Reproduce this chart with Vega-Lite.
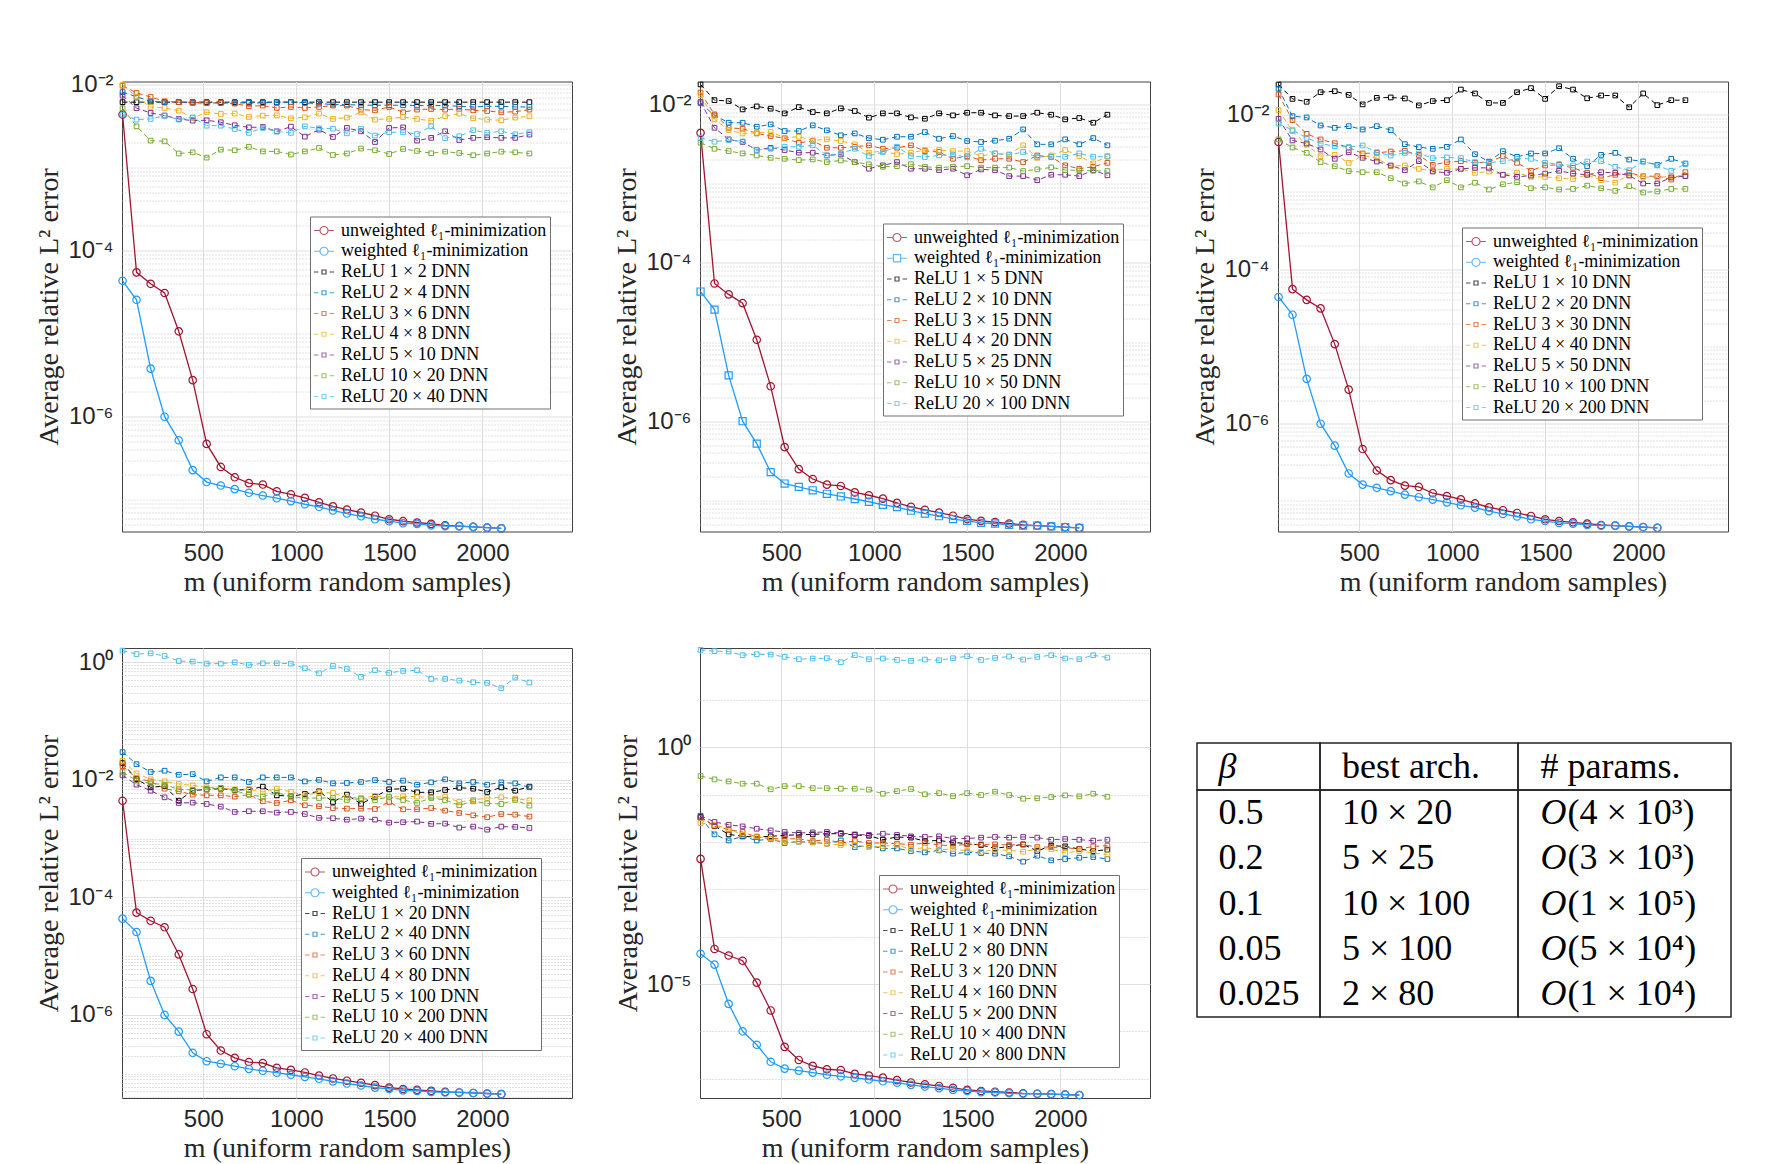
{
"$schema": "https://vega.github.io/schema/vega-lite/v6.json",
"background": "white",
"padding": {"left": 35, "top": 71.5, "right": 5, "bottom": 2},
"config": {
 "view": {"stroke": "#404040", "strokeWidth": 1},
 "axis": {"labelFont": "Liberation Sans", "labelFontSize": 24, "labelColor": "#262626", "titleFont": "Liberation Serif", "titleFontSize": 28, "titleFontWeight": "normal", "titleColor": "#262626", "domain": false, "ticks": false, "grid": true, "gridColor": "#dedede", "gridWidth": 1, "labelFlush": false, "labelOverlap": false},
 "axisX": {"titlePadding": 3, "labelPadding": 9.5, "format": "d"},
 "axisY": {"titlePadding": 4, "labelPadding": 9},
 "legend": {"labelFont": "Liberation Serif", "labelFontSize": 18, "labelColor": "#000000", "labelLimit": 400, "symbolSize": 400, "symbolStrokeWidth": 1.2, "padding": 3, "rowPadding": 0.75, "labelOffset": 6, "strokeColor": "#707070", "fillColor": "#ffffff", "orient": "none"}
},
"datasets": {
"l1": [
{"m":66,"net":"unweighted","err":4.4e-3},{"m":141,"net":"unweighted","err":5.5e-5},{"m":217,"net":"unweighted","err":4.0e-5},{"m":292,"net":"unweighted","err":3.1e-5},{"m":368,"net":"unweighted","err":1.07e-5},{"m":443,"net":"unweighted","err":2.76e-6},{"m":518,"net":"unweighted","err":4.7e-7},{"m":594,"net":"unweighted","err":2.48e-7},{"m":669,"net":"unweighted","err":1.86e-7},{"m":745,"net":"unweighted","err":1.58e-7},{"m":820,"net":"unweighted","err":1.52e-7},{"m":895,"net":"unweighted","err":1.26e-7},{"m":971,"net":"unweighted","err":1.16e-7},{"m":1046,"net":"unweighted","err":1.05e-7},{"m":1122,"net":"unweighted","err":9.3e-8},{"m":1197,"net":"unweighted","err":8.3e-8},{"m":1272,"net":"unweighted","err":7.6e-8},{"m":1348,"net":"unweighted","err":7.0e-8},{"m":1423,"net":"unweighted","err":6.4e-8},{"m":1499,"net":"unweighted","err":5.8e-8},{"m":1574,"net":"unweighted","err":5.5e-8},{"m":1649,"net":"unweighted","err":5.3e-8},{"m":1725,"net":"unweighted","err":5.1e-8},{"m":1800,"net":"unweighted","err":4.9e-8},{"m":1876,"net":"unweighted","err":4.8e-8},{"m":1951,"net":"unweighted","err":4.7e-8},{"m":2026,"net":"unweighted","err":4.6e-8},{"m":2102,"net":"unweighted","err":4.5e-8},
{"m":66,"net":"weighted","err":4.35e-5},{"m":141,"net":"weighted","err":2.57e-5},{"m":217,"net":"weighted","err":3.8e-6},{"m":292,"net":"weighted","err":1.0e-6},{"m":368,"net":"weighted","err":5.2e-7},{"m":443,"net":"weighted","err":2.27e-7},{"m":518,"net":"weighted","err":1.63e-7},{"m":594,"net":"weighted","err":1.48e-7},{"m":669,"net":"weighted","err":1.34e-7},{"m":745,"net":"weighted","err":1.21e-7},{"m":820,"net":"weighted","err":1.12e-7},{"m":895,"net":"weighted","err":1.04e-7},{"m":971,"net":"weighted","err":9.6e-8},{"m":1046,"net":"weighted","err":8.8e-8},{"m":1122,"net":"weighted","err":8.2e-8},{"m":1197,"net":"weighted","err":7.4e-8},{"m":1272,"net":"weighted","err":6.8e-8},{"m":1348,"net":"weighted","err":6.3e-8},{"m":1423,"net":"weighted","err":5.8e-8},{"m":1499,"net":"weighted","err":5.5e-8},{"m":1574,"net":"weighted","err":5.2e-8},{"m":1649,"net":"weighted","err":5.1e-8},{"m":1725,"net":"weighted","err":4.9e-8},{"m":1800,"net":"weighted","err":4.8e-8},{"m":1876,"net":"weighted","err":4.8e-8},{"m":1951,"net":"weighted","err":4.7e-8},{"m":2026,"net":"weighted","err":4.6e-8},{"m":2102,"net":"weighted","err":4.5e-8}
],
"p1": [
{"m":66,"net":"1","err":6.2e-3},{"m":141,"net":"1","err":6.2e-3},{"m":217,"net":"1","err":6.2e-3},{"m":292,"net":"1","err":6.2e-3},{"m":368,"net":"1","err":6.2e-3},{"m":443,"net":"1","err":6.2e-3},{"m":518,"net":"1","err":6.2e-3},{"m":594,"net":"1","err":6.2e-3},{"m":669,"net":"1","err":6.2e-3},{"m":745,"net":"1","err":6.2e-3},{"m":820,"net":"1","err":6.2e-3},{"m":895,"net":"1","err":6.2e-3},{"m":971,"net":"1","err":6.2e-3},{"m":1046,"net":"1","err":6.2e-3},{"m":1122,"net":"1","err":6.2e-3},{"m":1197,"net":"1","err":6.2e-3},{"m":1272,"net":"1","err":6.2e-3},{"m":1348,"net":"1","err":6.2e-3},{"m":1423,"net":"1","err":6.2e-3},{"m":1499,"net":"1","err":6.2e-3},{"m":1574,"net":"1","err":6.2e-3},{"m":1649,"net":"1","err":6.2e-3},{"m":1725,"net":"1","err":6.2e-3},{"m":1800,"net":"1","err":6.2e-3},{"m":1876,"net":"1","err":6.2e-3},{"m":1951,"net":"1","err":6.2e-3},{"m":2026,"net":"1","err":6.2e-3},{"m":2102,"net":"1","err":6.2e-3},{"m":2177,"net":"1","err":6.2e-3},{"m":2253,"net":"1","err":6.2e-3},
{"m":66,"net":"2","err":8.2e-3},{"m":141,"net":"2","err":7.2e-3},{"m":217,"net":"2","err":6.35e-3},{"m":292,"net":"2","err":6.2e-3},{"m":368,"net":"2","err":6.2e-3},{"m":443,"net":"2","err":6.07e-3},{"m":518,"net":"2","err":6.07e-3},{"m":594,"net":"2","err":6.07e-3},{"m":669,"net":"2","err":6.07e-3},{"m":745,"net":"2","err":6.07e-3},{"m":820,"net":"2","err":6.07e-3},{"m":895,"net":"2","err":6.2e-3},{"m":971,"net":"2","err":6.2e-3},{"m":1046,"net":"2","err":6.07e-3},{"m":1122,"net":"2","err":5.96e-3},{"m":1197,"net":"2","err":5.8e-3},{"m":1272,"net":"2","err":5.8e-3},{"m":1348,"net":"2","err":5.69e-3},{"m":1423,"net":"2","err":5.69e-3},{"m":1499,"net":"2","err":5.69e-3},{"m":1574,"net":"2","err":5.69e-3},{"m":1649,"net":"2","err":5.64e-3},{"m":1725,"net":"2","err":5.64e-3},{"m":1800,"net":"2","err":5.64e-3},{"m":1876,"net":"2","err":5.53e-3},{"m":1951,"net":"2","err":5.43e-3},{"m":2026,"net":"2","err":5.53e-3},{"m":2102,"net":"2","err":5.53e-3},{"m":2177,"net":"2","err":5.43e-3},{"m":2253,"net":"2","err":5.43e-3},
{"m":66,"net":"3","err":9.8e-3},{"m":141,"net":"3","err":8.0e-3},{"m":217,"net":"3","err":7.16e-3},{"m":292,"net":"3","err":6.35e-3},{"m":368,"net":"3","err":6.18e-3},{"m":443,"net":"3","err":6.18e-3},{"m":518,"net":"3","err":6.07e-3},{"m":594,"net":"3","err":6.07e-3},{"m":669,"net":"3","err":5.96e-3},{"m":745,"net":"3","err":5.53e-3},{"m":820,"net":"3","err":5.64e-3},{"m":895,"net":"3","err":5.28e-3},{"m":971,"net":"3","err":5.43e-3},{"m":1046,"net":"3","err":5.28e-3},{"m":1122,"net":"3","err":5.43e-3},{"m":1197,"net":"3","err":5.64e-3},{"m":1272,"net":"3","err":5.64e-3},{"m":1348,"net":"3","err":5.04e-3},{"m":1423,"net":"3","err":4.94e-3},{"m":1499,"net":"3","err":5.43e-3},{"m":1574,"net":"3","err":4.68e-3},{"m":1649,"net":"3","err":5.04e-3},{"m":1725,"net":"3","err":5.13e-3},{"m":1800,"net":"3","err":5.04e-3},{"m":1876,"net":"3","err":5.13e-3},{"m":1951,"net":"3","err":4.94e-3},{"m":2026,"net":"3","err":4.85e-3},{"m":2102,"net":"3","err":4.68e-3},{"m":2177,"net":"3","err":4.76e-3},{"m":2253,"net":"3","err":5.04e-3},
{"m":66,"net":"4","err":1.0e-2},{"m":141,"net":"4","err":7.16e-3},{"m":217,"net":"4","err":5.43e-3},{"m":292,"net":"4","err":5.28e-3},{"m":368,"net":"4","err":4.9e-3},{"m":443,"net":"4","err":4.0e-3},{"m":518,"net":"4","err":4.68e-3},{"m":594,"net":"4","err":4.47e-3},{"m":669,"net":"4","err":4.51e-3},{"m":745,"net":"4","err":4.11e-3},{"m":820,"net":"4","err":4.27e-3},{"m":895,"net":"4","err":4.3e-3},{"m":971,"net":"4","err":3.96e-3},{"m":1046,"net":"4","err":4.07e-3},{"m":1122,"net":"4","err":4.51e-3},{"m":1197,"net":"4","err":3.89e-3},{"m":1272,"net":"4","err":4.04e-3},{"m":1348,"net":"4","err":4.68e-3},{"m":1423,"net":"4","err":3.82e-3},{"m":1499,"net":"4","err":3.89e-3},{"m":1574,"net":"4","err":4.11e-3},{"m":1649,"net":"4","err":3.89e-3},{"m":1725,"net":"4","err":3.68e-3},{"m":1800,"net":"4","err":4.19e-3},{"m":1876,"net":"4","err":4.51e-3},{"m":1951,"net":"4","err":3.96e-3},{"m":2026,"net":"4","err":3.82e-3},{"m":2102,"net":"4","err":3.75e-3},{"m":2177,"net":"4","err":4.04e-3},{"m":2253,"net":"4","err":4.19e-3},
{"m":66,"net":"5","err":7.44e-3},{"m":141,"net":"5","err":5.24e-3},{"m":217,"net":"5","err":4.59e-3},{"m":292,"net":"5","err":4.27e-3},{"m":368,"net":"5","err":3.89e-3},{"m":443,"net":"5","err":3.71e-3},{"m":518,"net":"5","err":3.75e-3},{"m":594,"net":"5","err":3.55e-3},{"m":669,"net":"5","err":3.26e-3},{"m":745,"net":"5","err":3.08e-3},{"m":820,"net":"5","err":3.11e-3},{"m":895,"net":"5","err":2.76e-3},{"m":971,"net":"5","err":3.14e-3},{"m":1046,"net":"5","err":2.38e-3},{"m":1122,"net":"5","err":2.89e-3},{"m":1197,"net":"5","err":2.36e-3},{"m":1272,"net":"5","err":3.03e-3},{"m":1348,"net":"5","err":2.76e-3},{"m":1423,"net":"5","err":2.05e-3},{"m":1499,"net":"5","err":3.03e-3},{"m":1574,"net":"5","err":3.08e-3},{"m":1649,"net":"5","err":2.13e-3},{"m":1725,"net":"5","err":2.3e-3},{"m":1800,"net":"5","err":2.76e-3},{"m":1876,"net":"5","err":2.17e-3},{"m":1951,"net":"5","err":2.3e-3},{"m":2026,"net":"5","err":2.34e-3},{"m":2102,"net":"5","err":2.3e-3},{"m":2177,"net":"5","err":2.3e-3},{"m":2253,"net":"5","err":2.52e-3},
{"m":66,"net":"10","err":5.24e-3},{"m":141,"net":"10","err":3.17e-3},{"m":217,"net":"10","err":2.13e-3},{"m":292,"net":"10","err":2.09e-3},{"m":368,"net":"10","err":1.49e-3},{"m":443,"net":"10","err":1.54e-3},{"m":518,"net":"10","err":1.33e-3},{"m":594,"net":"10","err":1.66e-3},{"m":669,"net":"10","err":1.63e-3},{"m":745,"net":"10","err":1.79e-3},{"m":820,"net":"10","err":1.58e-3},{"m":895,"net":"10","err":1.58e-3},{"m":971,"net":"10","err":1.45e-3},{"m":1046,"net":"10","err":1.58e-3},{"m":1122,"net":"10","err":1.74e-3},{"m":1197,"net":"10","err":1.43e-3},{"m":1272,"net":"10","err":1.49e-3},{"m":1348,"net":"10","err":1.71e-3},{"m":1423,"net":"10","err":1.63e-3},{"m":1499,"net":"10","err":1.47e-3},{"m":1574,"net":"10","err":1.69e-3},{"m":1649,"net":"10","err":1.6e-3},{"m":1725,"net":"10","err":1.5e-3},{"m":1800,"net":"10","err":1.57e-3},{"m":1876,"net":"10","err":1.51e-3},{"m":1951,"net":"10","err":1.42e-3},{"m":2026,"net":"10","err":1.49e-3},{"m":2102,"net":"10","err":1.57e-3},{"m":2177,"net":"10","err":1.54e-3},{"m":2253,"net":"10","err":1.49e-3},
{"m":66,"net":"20","err":4.38e-3},{"m":141,"net":"20","err":3.82e-3},{"m":217,"net":"20","err":3.89e-3},{"m":292,"net":"20","err":4.27e-3},{"m":368,"net":"20","err":3.82e-3},{"m":443,"net":"20","err":4.07e-3},{"m":518,"net":"20","err":3.23e-3},{"m":594,"net":"20","err":3.23e-3},{"m":669,"net":"20","err":2.94e-3},{"m":745,"net":"20","err":2.64e-3},{"m":820,"net":"20","err":3.03e-3},{"m":895,"net":"20","err":2.74e-3},{"m":971,"net":"20","err":2.64e-3},{"m":1046,"net":"20","err":3.17e-3},{"m":1122,"net":"20","err":3.0e-3},{"m":1197,"net":"20","err":2.97e-3},{"m":1272,"net":"20","err":2.61e-3},{"m":1348,"net":"20","err":2.97e-3},{"m":1423,"net":"20","err":2.45e-3},{"m":1499,"net":"20","err":2.69e-3},{"m":1574,"net":"20","err":2.69e-3},{"m":1649,"net":"20","err":2.56e-3},{"m":1725,"net":"20","err":3.17e-3},{"m":1800,"net":"20","err":2.28e-3},{"m":1876,"net":"20","err":2.4e-3},{"m":1951,"net":"20","err":2.84e-3},{"m":2026,"net":"20","err":2.64e-3},{"m":2102,"net":"20","err":2.76e-3},{"m":2177,"net":"20","err":2.54e-3},{"m":2253,"net":"20","err":2.69e-3}
],
"p2": [
{"m":66,"net":"1","err":1.8e-2},{"m":141,"net":"1","err":1.14e-2},{"m":217,"net":"1","err":1.11e-2},{"m":292,"net":"1","err":8.71e-3},{"m":368,"net":"1","err":9.5e-3},{"m":443,"net":"1","err":8.89e-3},{"m":518,"net":"1","err":7.76e-3},{"m":594,"net":"1","err":9.3e-3},{"m":669,"net":"1","err":8.06e-3},{"m":745,"net":"1","err":7.76e-3},{"m":820,"net":"1","err":8.97e-3},{"m":895,"net":"1","err":8.3e-3},{"m":971,"net":"1","err":6.84e-3},{"m":1046,"net":"1","err":7.76e-3},{"m":1122,"net":"1","err":7.76e-3},{"m":1197,"net":"1","err":6.9e-3},{"m":1272,"net":"1","err":6.64e-3},{"m":1348,"net":"1","err":7.76e-3},{"m":1423,"net":"1","err":7.31e-3},{"m":1499,"net":"1","err":7.9e-3},{"m":1574,"net":"1","err":7.9e-3},{"m":1649,"net":"1","err":7.31e-3},{"m":1725,"net":"1","err":7.17e-3},{"m":1800,"net":"1","err":7.17e-3},{"m":1876,"net":"1","err":7.9e-3},{"m":1951,"net":"1","err":7.46e-3},{"m":2026,"net":"1","err":6.52e-3},{"m":2102,"net":"1","err":6.77e-3},{"m":2177,"net":"1","err":5.91e-3},{"m":2253,"net":"1","err":7.46e-3},
{"m":66,"net":"2","err":1.04e-2},{"m":141,"net":"2","err":7.31e-3},{"m":217,"net":"2","err":5.91e-3},{"m":292,"net":"2","err":5.91e-3},{"m":368,"net":"2","err":5.26e-3},{"m":443,"net":"2","err":5.63e-3},{"m":518,"net":"2","err":4.64e-3},{"m":594,"net":"2","err":4.64e-3},{"m":669,"net":"2","err":5.47e-3},{"m":745,"net":"2","err":4.73e-3},{"m":820,"net":"2","err":4.09e-3},{"m":895,"net":"2","err":4.33e-3},{"m":971,"net":"2","err":3.78e-3},{"m":1046,"net":"2","err":3.6e-3},{"m":1122,"net":"2","err":3.93e-3},{"m":1197,"net":"2","err":3.93e-3},{"m":1272,"net":"2","err":4.5e-3},{"m":1348,"net":"2","err":3.71e-3},{"m":1423,"net":"2","err":4.01e-3},{"m":1499,"net":"2","err":3.47e-3},{"m":1574,"net":"2","err":3.37e-3},{"m":1649,"net":"2","err":3.5e-3},{"m":1725,"net":"2","err":3.71e-3},{"m":1800,"net":"2","err":4.86e-3},{"m":1876,"net":"2","err":3.15e-3},{"m":1951,"net":"2","err":3.15e-3},{"m":2026,"net":"2","err":3.64e-3},{"m":2102,"net":"2","err":3.15e-3},{"m":2177,"net":"2","err":3.78e-3},{"m":2253,"net":"2","err":3.06e-3},
{"m":66,"net":"3","err":1.42e-2},{"m":141,"net":"3","err":7.54e-3},{"m":217,"net":"3","err":5.1e-3},{"m":292,"net":"3","err":4.96e-3},{"m":368,"net":"3","err":4.33e-3},{"m":443,"net":"3","err":4.01e-3},{"m":518,"net":"3","err":3.75e-3},{"m":594,"net":"3","err":3.3e-3},{"m":669,"net":"3","err":3.47e-3},{"m":745,"net":"3","err":2.85e-3},{"m":820,"net":"3","err":2.85e-3},{"m":895,"net":"3","err":2.94e-3},{"m":971,"net":"3","err":3.06e-3},{"m":1046,"net":"3","err":2.77e-3},{"m":1122,"net":"3","err":2.85e-3},{"m":1197,"net":"3","err":3.06e-3},{"m":1272,"net":"3","err":2.59e-3},{"m":1348,"net":"3","err":2.52e-3},{"m":1423,"net":"3","err":2.07e-3},{"m":1499,"net":"3","err":2.24e-3},{"m":1574,"net":"3","err":1.99e-3},{"m":1649,"net":"3","err":2.07e-3},{"m":1725,"net":"3","err":2.07e-3},{"m":1800,"net":"3","err":1.88e-3},{"m":1876,"net":"3","err":2.28e-3},{"m":1951,"net":"3","err":2.18e-3},{"m":2026,"net":"3","err":1.71e-3},{"m":2102,"net":"3","err":1.55e-3},{"m":2177,"net":"3","err":1.64e-3},{"m":2253,"net":"3","err":1.84e-3},
{"m":66,"net":"4","err":1.31e-2},{"m":141,"net":"4","err":6.52e-3},{"m":217,"net":"4","err":4.77e-3},{"m":292,"net":"4","err":4.33e-3},{"m":368,"net":"4","err":4.42e-3},{"m":443,"net":"4","err":4.5e-3},{"m":518,"net":"4","err":3.82e-3},{"m":594,"net":"4","err":3.93e-3},{"m":669,"net":"4","err":3.53e-3},{"m":745,"net":"4","err":3.64e-3},{"m":820,"net":"4","err":3.47e-3},{"m":895,"net":"4","err":3.15e-3},{"m":971,"net":"4","err":2.47e-3},{"m":1046,"net":"4","err":2.59e-3},{"m":1122,"net":"4","err":2.35e-3},{"m":1197,"net":"4","err":2.47e-3},{"m":1272,"net":"4","err":2.67e-3},{"m":1348,"net":"4","err":2.67e-3},{"m":1423,"net":"4","err":2.59e-3},{"m":1499,"net":"4","err":2.59e-3},{"m":1574,"net":"4","err":2.24e-3},{"m":1649,"net":"4","err":2.42e-3},{"m":1725,"net":"4","err":2.35e-3},{"m":1800,"net":"4","err":3.06e-3},{"m":1876,"net":"4","err":2.13e-3},{"m":1951,"net":"4","err":2.28e-3},{"m":2026,"net":"4","err":2.67e-3},{"m":2102,"net":"4","err":2.24e-3},{"m":2177,"net":"4","err":1.81e-3},{"m":2253,"net":"4","err":2.24e-3},
{"m":66,"net":"5","err":1.08e-2},{"m":141,"net":"5","err":5.1e-3},{"m":217,"net":"5","err":3.64e-3},{"m":292,"net":"5","err":3.37e-3},{"m":368,"net":"5","err":2.67e-3},{"m":443,"net":"5","err":2.85e-3},{"m":518,"net":"5","err":2.67e-3},{"m":594,"net":"5","err":2.47e-3},{"m":669,"net":"5","err":2.47e-3},{"m":745,"net":"5","err":2.28e-3},{"m":820,"net":"5","err":2.35e-3},{"m":895,"net":"5","err":1.88e-3},{"m":971,"net":"5","err":1.55e-3},{"m":1046,"net":"5","err":1.71e-3},{"m":1122,"net":"5","err":1.88e-3},{"m":1197,"net":"5","err":1.55e-3},{"m":1272,"net":"5","err":1.55e-3},{"m":1348,"net":"5","err":1.49e-3},{"m":1423,"net":"5","err":1.55e-3},{"m":1499,"net":"5","err":1.28e-3},{"m":1574,"net":"5","err":1.52e-3},{"m":1649,"net":"5","err":1.49e-3},{"m":1725,"net":"5","err":1.25e-3},{"m":1800,"net":"5","err":1.25e-3},{"m":1876,"net":"5","err":1.11e-3},{"m":1951,"net":"5","err":1.3e-3},{"m":2026,"net":"5","err":1.3e-3},{"m":2102,"net":"5","err":1.25e-3},{"m":2177,"net":"5","err":1.49e-3},{"m":2253,"net":"5","err":1.28e-3},
{"m":66,"net":"10","err":3.3e-3},{"m":141,"net":"10","err":2.77e-3},{"m":217,"net":"10","err":2.59e-3},{"m":292,"net":"10","err":2.42e-3},{"m":368,"net":"10","err":2.28e-3},{"m":443,"net":"10","err":2.13e-3},{"m":518,"net":"10","err":2.07e-3},{"m":594,"net":"10","err":1.99e-3},{"m":669,"net":"10","err":2.03e-3},{"m":745,"net":"10","err":1.88e-3},{"m":820,"net":"10","err":1.97e-3},{"m":895,"net":"10","err":1.88e-3},{"m":971,"net":"10","err":1.76e-3},{"m":1046,"net":"10","err":1.64e-3},{"m":1122,"net":"10","err":1.67e-3},{"m":1197,"net":"10","err":1.77e-3},{"m":1272,"net":"10","err":1.64e-3},{"m":1348,"net":"10","err":1.6e-3},{"m":1423,"net":"10","err":1.64e-3},{"m":1499,"net":"10","err":1.67e-3},{"m":1574,"net":"10","err":1.6e-3},{"m":1649,"net":"10","err":1.6e-3},{"m":1725,"net":"10","err":1.6e-3},{"m":1800,"net":"10","err":1.45e-3},{"m":1876,"net":"10","err":1.52e-3},{"m":1951,"net":"10","err":1.61e-3},{"m":2026,"net":"10","err":1.49e-3},{"m":2102,"net":"10","err":1.48e-3},{"m":2177,"net":"10","err":1.46e-3},{"m":2253,"net":"10","err":1.45e-3},
{"m":66,"net":"20","err":3.82e-3},{"m":141,"net":"20","err":3.4e-3},{"m":217,"net":"20","err":3.57e-3},{"m":292,"net":"20","err":3.43e-3},{"m":368,"net":"20","err":2.67e-3},{"m":443,"net":"20","err":2.77e-3},{"m":518,"net":"20","err":2.94e-3},{"m":594,"net":"20","err":2.94e-3},{"m":669,"net":"20","err":3.06e-3},{"m":745,"net":"20","err":2.28e-3},{"m":820,"net":"20","err":2.42e-3},{"m":895,"net":"20","err":2.77e-3},{"m":971,"net":"20","err":2.24e-3},{"m":1046,"net":"20","err":2.52e-3},{"m":1122,"net":"20","err":2.94e-3},{"m":1197,"net":"20","err":2.24e-3},{"m":1272,"net":"20","err":2.18e-3},{"m":1348,"net":"20","err":2.28e-3},{"m":1423,"net":"20","err":2.33e-3},{"m":1499,"net":"20","err":2.16e-3},{"m":1574,"net":"20","err":2.77e-3},{"m":1649,"net":"20","err":2.42e-3},{"m":1725,"net":"20","err":2.31e-3},{"m":1800,"net":"20","err":2.52e-3},{"m":1876,"net":"20","err":2.18e-3},{"m":1951,"net":"20","err":2.2e-3},{"m":2026,"net":"20","err":2.2e-3},{"m":2102,"net":"20","err":2.42e-3},{"m":2177,"net":"20","err":2.2e-3},{"m":2253,"net":"20","err":2.2e-3}
],
"p3": [
{"m":66,"net":"1","err":2.44e-2},{"m":141,"net":"1","err":1.59e-2},{"m":217,"net":"1","err":1.46e-2},{"m":292,"net":"1","err":1.94e-2},{"m":368,"net":"1","err":2.0e-2},{"m":443,"net":"1","err":1.79e-2},{"m":518,"net":"1","err":1.35e-2},{"m":594,"net":"1","err":1.64e-2},{"m":669,"net":"1","err":1.66e-2},{"m":745,"net":"1","err":1.61e-2},{"m":820,"net":"1","err":1.31e-2},{"m":895,"net":"1","err":1.49e-2},{"m":971,"net":"1","err":1.53e-2},{"m":1046,"net":"1","err":2.1e-2},{"m":1122,"net":"1","err":1.87e-2},{"m":1197,"net":"1","err":1.41e-2},{"m":1272,"net":"1","err":1.41e-2},{"m":1348,"net":"1","err":1.94e-2},{"m":1423,"net":"1","err":2.19e-2},{"m":1499,"net":"1","err":1.59e-2},{"m":1574,"net":"1","err":2.32e-2},{"m":1649,"net":"1","err":2.1e-2},{"m":1725,"net":"1","err":1.62e-2},{"m":1800,"net":"1","err":1.76e-2},{"m":1876,"net":"1","err":1.76e-2},{"m":1951,"net":"1","err":1.24e-2},{"m":2026,"net":"1","err":1.87e-2},{"m":2102,"net":"1","err":1.32e-2},{"m":2177,"net":"1","err":1.53e-2},{"m":2253,"net":"1","err":1.53e-2},
{"m":66,"net":"2","err":2.15e-2},{"m":141,"net":"2","err":9.5e-3},{"m":217,"net":"2","err":9.14e-3},{"m":292,"net":"2","err":7.2e-3},{"m":368,"net":"2","err":6.72e-3},{"m":443,"net":"2","err":7.06e-3},{"m":518,"net":"2","err":6.4e-3},{"m":594,"net":"2","err":7.06e-3},{"m":669,"net":"2","err":6.27e-3},{"m":745,"net":"2","err":4.13e-3},{"m":820,"net":"2","err":3.78e-3},{"m":895,"net":"2","err":3.59e-3},{"m":971,"net":"2","err":3.81e-3},{"m":1046,"net":"2","err":4.75e-3},{"m":1122,"net":"2","err":3.06e-3},{"m":1197,"net":"2","err":2.46e-3},{"m":1272,"net":"2","err":3.35e-3},{"m":1348,"net":"2","err":2.83e-3},{"m":1423,"net":"2","err":3.13e-3},{"m":1499,"net":"2","err":3.13e-3},{"m":1574,"net":"2","err":3.66e-3},{"m":1649,"net":"2","err":2.67e-3},{"m":1725,"net":"2","err":2.14e-3},{"m":1800,"net":"2","err":3.0e-3},{"m":1876,"net":"2","err":3.19e-3},{"m":1951,"net":"2","err":2.61e-3},{"m":2026,"net":"2","err":2.46e-3},{"m":2102,"net":"2","err":2.23e-3},{"m":2177,"net":"2","err":2.67e-3},{"m":2253,"net":"2","err":2.32e-3},
{"m":66,"net":"3","err":1.81e-2},{"m":141,"net":"3","err":8.44e-3},{"m":217,"net":"3","err":5.62e-3},{"m":292,"net":"3","err":4.75e-3},{"m":368,"net":"3","err":4.25e-3},{"m":443,"net":"3","err":3.74e-3},{"m":518,"net":"3","err":3.13e-3},{"m":594,"net":"3","err":3.19e-3},{"m":669,"net":"3","err":3.32e-3},{"m":745,"net":"3","err":3.39e-3},{"m":820,"net":"3","err":3.0e-3},{"m":895,"net":"3","err":2.23e-3},{"m":971,"net":"3","err":2.42e-3},{"m":1046,"net":"3","err":2.49e-3},{"m":1122,"net":"3","err":2.37e-3},{"m":1197,"net":"3","err":2.42e-3},{"m":1272,"net":"3","err":2.89e-3},{"m":1348,"net":"3","err":2.37e-3},{"m":1423,"net":"3","err":1.87e-3},{"m":1499,"net":"3","err":2.19e-3},{"m":1574,"net":"3","err":2.23e-3},{"m":1649,"net":"3","err":2.04e-3},{"m":1725,"net":"3","err":1.76e-3},{"m":1800,"net":"3","err":1.5e-3},{"m":1876,"net":"3","err":1.66e-3},{"m":1951,"net":"3","err":1.76e-3},{"m":2026,"net":"3","err":1.59e-3},{"m":2102,"net":"3","err":1.59e-3},{"m":2177,"net":"3","err":1.44e-3},{"m":2253,"net":"3","err":1.79e-3},
{"m":66,"net":"4","err":1.14e-2},{"m":141,"net":"4","err":6.09e-3},{"m":217,"net":"4","err":4.05e-3},{"m":292,"net":"4","err":2.89e-3},{"m":368,"net":"4","err":3.0e-3},{"m":443,"net":"4","err":2.37e-3},{"m":518,"net":"4","err":2.94e-3},{"m":594,"net":"4","err":2.72e-3},{"m":669,"net":"4","err":2.14e-3},{"m":745,"net":"4","err":2.19e-3},{"m":820,"net":"4","err":1.98e-3},{"m":895,"net":"4","err":1.87e-3},{"m":971,"net":"4","err":1.98e-3},{"m":1046,"net":"4","err":1.98e-3},{"m":1122,"net":"4","err":1.76e-3},{"m":1197,"net":"4","err":1.83e-3},{"m":1272,"net":"4","err":1.66e-3},{"m":1348,"net":"4","err":1.76e-3},{"m":1423,"net":"4","err":1.56e-3},{"m":1499,"net":"4","err":1.56e-3},{"m":1574,"net":"4","err":1.5e-3},{"m":1649,"net":"4","err":1.46e-3},{"m":1725,"net":"4","err":1.66e-3},{"m":1800,"net":"4","err":1.41e-3},{"m":1876,"net":"4","err":1.31e-3},{"m":1951,"net":"4","err":1.66e-3},{"m":2026,"net":"4","err":1.56e-3},{"m":2102,"net":"4","err":1.53e-3},{"m":2177,"net":"4","err":1.59e-3},{"m":2253,"net":"4","err":1.62e-3},
{"m":66,"net":"5","err":8.79e-3},{"m":141,"net":"5","err":4.61e-3},{"m":217,"net":"5","err":4.21e-3},{"m":292,"net":"5","err":3.52e-3},{"m":368,"net":"5","err":2.67e-3},{"m":443,"net":"5","err":3.25e-3},{"m":518,"net":"5","err":2.75e-3},{"m":594,"net":"5","err":2.46e-3},{"m":669,"net":"5","err":2.19e-3},{"m":745,"net":"5","err":1.9e-3},{"m":820,"net":"5","err":2.49e-3},{"m":895,"net":"5","err":1.83e-3},{"m":971,"net":"5","err":1.76e-3},{"m":1046,"net":"5","err":1.98e-3},{"m":1122,"net":"5","err":2.04e-3},{"m":1197,"net":"5","err":2.04e-3},{"m":1272,"net":"5","err":1.66e-3},{"m":1348,"net":"5","err":1.56e-3},{"m":1423,"net":"5","err":1.62e-3},{"m":1499,"net":"5","err":1.72e-3},{"m":1574,"net":"5","err":1.87e-3},{"m":1649,"net":"5","err":1.72e-3},{"m":1725,"net":"5","err":1.66e-3},{"m":1800,"net":"5","err":1.79e-3},{"m":1876,"net":"5","err":1.76e-3},{"m":1951,"net":"5","err":1.62e-3},{"m":2026,"net":"5","err":1.28e-3},{"m":2102,"net":"5","err":1.28e-3},{"m":2177,"net":"5","err":1.53e-3},{"m":2253,"net":"5","err":1.59e-3},
{"m":66,"net":"10","err":4.75e-3},{"m":141,"net":"10","err":3.74e-3},{"m":217,"net":"10","err":3.19e-3},{"m":292,"net":"10","err":2.42e-3},{"m":368,"net":"10","err":2.14e-3},{"m":443,"net":"10","err":1.85e-3},{"m":518,"net":"10","err":1.79e-3},{"m":594,"net":"10","err":1.79e-3},{"m":669,"net":"10","err":1.5e-3},{"m":745,"net":"10","err":1.28e-3},{"m":820,"net":"10","err":1.36e-3},{"m":895,"net":"10","err":1.14e-3},{"m":971,"net":"10","err":1.41e-3},{"m":1046,"net":"10","err":1.14e-3},{"m":1122,"net":"10","err":1.31e-3},{"m":1197,"net":"10","err":1.07e-3},{"m":1272,"net":"10","err":1.25e-3},{"m":1348,"net":"10","err":1.33e-3},{"m":1423,"net":"10","err":1.11e-3},{"m":1499,"net":"10","err":1.14e-3},{"m":1574,"net":"10","err":1.07e-3},{"m":1649,"net":"10","err":1.09e-3},{"m":1725,"net":"10","err":1.2e-3},{"m":1800,"net":"10","err":1.11e-3},{"m":1876,"net":"10","err":1.03e-3},{"m":1951,"net":"10","err":1.18e-3},{"m":2026,"net":"10","err":9.8e-4},{"m":2102,"net":"10","err":1.01e-3},{"m":2177,"net":"10","err":1.09e-3},{"m":2253,"net":"10","err":1.09e-3},
{"m":66,"net":"20","err":7.63e-3},{"m":141,"net":"20","err":6.27e-3},{"m":217,"net":"20","err":4.99e-3},{"m":292,"net":"20","err":4.21e-3},{"m":368,"net":"20","err":3.89e-3},{"m":443,"net":"20","err":3.78e-3},{"m":518,"net":"20","err":3.97e-3},{"m":594,"net":"20","err":3.25e-3},{"m":669,"net":"20","err":2.94e-3},{"m":745,"net":"20","err":3.19e-3},{"m":820,"net":"20","err":3.13e-3},{"m":895,"net":"20","err":2.72e-3},{"m":971,"net":"20","err":2.78e-3},{"m":1046,"net":"20","err":2.72e-3},{"m":1122,"net":"20","err":2.42e-3},{"m":1197,"net":"20","err":2.37e-3},{"m":1272,"net":"20","err":2.49e-3},{"m":1348,"net":"20","err":2.67e-3},{"m":1423,"net":"20","err":2.67e-3},{"m":1499,"net":"20","err":2.37e-3},{"m":1574,"net":"20","err":2.28e-3},{"m":1649,"net":"20","err":2.19e-3},{"m":1725,"net":"20","err":2.46e-3},{"m":1800,"net":"20","err":2.49e-3},{"m":1876,"net":"20","err":2.1e-3},{"m":1951,"net":"20","err":1.9e-3},{"m":2026,"net":"20","err":2.46e-3},{"m":2102,"net":"20","err":2.19e-3},{"m":2177,"net":"20","err":1.87e-3},{"m":2253,"net":"20","err":2.28e-3}
],
"p4": [
{"m":66,"net":"1","err":1.93e-2},{"m":141,"net":"1","err":1.03e-2},{"m":217,"net":"1","err":7.45e-3},{"m":292,"net":"1","err":7.85e-3},{"m":368,"net":"1","err":4.42e-3},{"m":443,"net":"1","err":6.54e-3},{"m":518,"net":"1","err":6.89e-3},{"m":594,"net":"1","err":7.07e-3},{"m":669,"net":"1","err":6.71e-3},{"m":745,"net":"1","err":6.8e-3},{"m":820,"net":"1","err":7.65e-3},{"m":895,"net":"1","err":5.45e-3},{"m":971,"net":"1","err":5.24e-3},{"m":1046,"net":"1","err":5.74e-3},{"m":1122,"net":"1","err":6.37e-3},{"m":1197,"net":"1","err":4.2e-3},{"m":1272,"net":"1","err":5.6e-3},{"m":1348,"net":"1","err":3.88e-3},{"m":1423,"net":"1","err":5.17e-3},{"m":1499,"net":"1","err":6.89e-3},{"m":1574,"net":"1","err":7.07e-3},{"m":1649,"net":"1","err":6.13e-3},{"m":1725,"net":"1","err":6.13e-3},{"m":1800,"net":"1","err":6.71e-3},{"m":1876,"net":"1","err":7.35e-3},{"m":1951,"net":"1","err":7.07e-3},{"m":2026,"net":"1","err":6.21e-3},{"m":2102,"net":"1","err":7.45e-3},{"m":2177,"net":"1","err":6.54e-3},{"m":2253,"net":"1","err":7.65e-3},
{"m":66,"net":"2","err":2.96e-2},{"m":141,"net":"2","err":1.85e-2},{"m":217,"net":"2","err":1.36e-2},{"m":292,"net":"2","err":1.43e-2},{"m":368,"net":"2","err":1.22e-2},{"m":443,"net":"2","err":1.25e-2},{"m":518,"net":"2","err":9.4e-3},{"m":594,"net":"2","err":1.1e-2},{"m":669,"net":"2","err":1.1e-2},{"m":745,"net":"2","err":9.2e-3},{"m":820,"net":"2","err":1.1e-2},{"m":895,"net":"2","err":1.1e-2},{"m":971,"net":"2","err":1.1e-2},{"m":1046,"net":"2","err":9.4e-3},{"m":1122,"net":"2","err":1.0e-2},{"m":1197,"net":"2","err":8.71e-3},{"m":1272,"net":"2","err":8.83e-3},{"m":1348,"net":"2","err":9.2e-3},{"m":1423,"net":"2","err":9.9e-3},{"m":1499,"net":"2","err":9.2e-3},{"m":1574,"net":"2","err":9.7e-3},{"m":1649,"net":"2","err":8.27e-3},{"m":1725,"net":"2","err":9.06e-3},{"m":1800,"net":"2","err":1.02e-2},{"m":1876,"net":"2","err":8.71e-3},{"m":1951,"net":"2","err":9.2e-3},{"m":2026,"net":"2","err":8.27e-3},{"m":2102,"net":"2","err":9.06e-3},{"m":2177,"net":"2","err":8.71e-3},{"m":2253,"net":"2","err":7.45e-3},
{"m":66,"net":"3","err":1.71e-2},{"m":141,"net":"3","err":1.07e-2},{"m":217,"net":"3","err":9.4e-3},{"m":292,"net":"3","err":7.07e-3},{"m":368,"net":"3","err":6.37e-3},{"m":443,"net":"3","err":5.6e-3},{"m":518,"net":"3","err":5.45e-3},{"m":594,"net":"3","err":5.45e-3},{"m":669,"net":"3","err":5.17e-3},{"m":745,"net":"3","err":5.6e-3},{"m":820,"net":"3","err":4.31e-3},{"m":895,"net":"3","err":4.04e-3},{"m":971,"net":"3","err":4.48e-3},{"m":1046,"net":"3","err":3.69e-3},{"m":1122,"net":"3","err":3.55e-3},{"m":1197,"net":"3","err":3.32e-3},{"m":1272,"net":"3","err":3.24e-3},{"m":1348,"net":"3","err":3.24e-3},{"m":1423,"net":"3","err":3.19e-3},{"m":1499,"net":"3","err":4.2e-3},{"m":1574,"net":"3","err":3.15e-3},{"m":1649,"net":"3","err":3.15e-3},{"m":1725,"net":"3","err":3.32e-3},{"m":1800,"net":"3","err":2.99e-3},{"m":1876,"net":"3","err":2.73e-3},{"m":1951,"net":"3","err":2.49e-3},{"m":2026,"net":"3","err":2.31e-3},{"m":2102,"net":"3","err":2.62e-3},{"m":2177,"net":"3","err":2.56e-3},{"m":2253,"net":"3","err":2.37e-3},
{"m":66,"net":"4","err":2.11e-2},{"m":141,"net":"4","err":1.29e-2},{"m":217,"net":"4","err":1.02e-2},{"m":292,"net":"4","err":9.4e-3},{"m":368,"net":"4","err":8.49e-3},{"m":443,"net":"4","err":8.05e-3},{"m":518,"net":"4","err":7.45e-3},{"m":594,"net":"4","err":7.26e-3},{"m":669,"net":"4","err":6.89e-3},{"m":745,"net":"4","err":6.89e-3},{"m":820,"net":"4","err":6.21e-3},{"m":895,"net":"4","err":7.07e-3},{"m":971,"net":"4","err":6.21e-3},{"m":1046,"net":"4","err":5.45e-3},{"m":1122,"net":"4","err":6.13e-3},{"m":1197,"net":"4","err":5.97e-3},{"m":1272,"net":"4","err":5.04e-3},{"m":1348,"net":"4","err":4.91e-3},{"m":1423,"net":"4","err":5.31e-3},{"m":1499,"net":"4","err":5.04e-3},{"m":1574,"net":"4","err":5.24e-3},{"m":1649,"net":"4","err":5.17e-3},{"m":1725,"net":"4","err":5.04e-3},{"m":1800,"net":"4","err":5.17e-3},{"m":1876,"net":"4","err":4.2e-3},{"m":1951,"net":"4","err":4.54e-3},{"m":2026,"net":"4","err":4.91e-3},{"m":2102,"net":"4","err":5.04e-3},{"m":2177,"net":"4","err":4.78e-3},{"m":2253,"net":"4","err":4.48e-3},
{"m":66,"net":"5","err":1.19e-2},{"m":141,"net":"5","err":8.27e-3},{"m":217,"net":"5","err":6.54e-3},{"m":292,"net":"5","err":5.04e-3},{"m":368,"net":"5","err":4.04e-3},{"m":443,"net":"5","err":4.09e-3},{"m":518,"net":"5","err":3.88e-3},{"m":594,"net":"5","err":3.5e-3},{"m":669,"net":"5","err":2.84e-3},{"m":745,"net":"5","err":2.92e-3},{"m":820,"net":"5","err":2.92e-3},{"m":895,"net":"5","err":2.77e-3},{"m":971,"net":"5","err":2.84e-3},{"m":1046,"net":"5","err":2.62e-3},{"m":1122,"net":"5","err":2.25e-3},{"m":1197,"net":"5","err":2.22e-3},{"m":1272,"net":"5","err":2.1e-3},{"m":1348,"net":"5","err":2.19e-3},{"m":1423,"net":"5","err":2.1e-3},{"m":1499,"net":"5","err":1.87e-3},{"m":1574,"net":"5","err":1.9e-3},{"m":1649,"net":"5","err":1.95e-3},{"m":1725,"net":"5","err":1.78e-3},{"m":1800,"net":"5","err":1.8e-3},{"m":1876,"net":"5","err":1.54e-3},{"m":1951,"net":"5","err":1.6e-3},{"m":2026,"net":"5","err":1.42e-3},{"m":2102,"net":"5","err":1.6e-3},{"m":2177,"net":"5","err":1.58e-3},{"m":2253,"net":"5","err":1.52e-3},
{"m":66,"net":"10","err":1.36e-2},{"m":141,"net":"10","err":9.7e-3},{"m":217,"net":"10","err":8.71e-3},{"m":292,"net":"10","err":8.27e-3},{"m":368,"net":"10","err":6.89e-3},{"m":443,"net":"10","err":6.71e-3},{"m":518,"net":"10","err":6.98e-3},{"m":594,"net":"10","err":7.26e-3},{"m":669,"net":"10","err":6.54e-3},{"m":745,"net":"10","err":5.6e-3},{"m":820,"net":"10","err":5.17e-3},{"m":895,"net":"10","err":6.05e-3},{"m":971,"net":"10","err":5.17e-3},{"m":1046,"net":"10","err":4.91e-3},{"m":1122,"net":"10","err":4.91e-3},{"m":1197,"net":"10","err":4.91e-3},{"m":1272,"net":"10","err":4.54e-3},{"m":1348,"net":"10","err":4.78e-3},{"m":1423,"net":"10","err":4.54e-3},{"m":1499,"net":"10","err":5.17e-3},{"m":1574,"net":"10","err":4.54e-3},{"m":1649,"net":"10","err":4.04e-3},{"m":1725,"net":"10","err":4.91e-3},{"m":1800,"net":"10","err":4.54e-3},{"m":1876,"net":"10","err":3.69e-3},{"m":1951,"net":"10","err":4.31e-3},{"m":2026,"net":"10","err":3.98e-3},{"m":2102,"net":"10","err":3.88e-3},{"m":2177,"net":"10","err":4.54e-3},{"m":2253,"net":"10","err":3.64e-3},
{"m":66,"net":"20","err":1.58},{"m":141,"net":"20","err":1.38},{"m":217,"net":"20","err":1.42},{"m":292,"net":"20","err":1.28},{"m":368,"net":"20","err":1.05},{"m":443,"net":"20","err":1.03},{"m":518,"net":"20","err":0.949},{"m":594,"net":"20","err":0.949},{"m":669,"net":"20","err":1.0},{"m":745,"net":"20","err":0.901},{"m":820,"net":"20","err":0.962},{"m":895,"net":"20","err":0.962},{"m":971,"net":"20","err":0.949},{"m":1046,"net":"20","err":0.791},{"m":1122,"net":"20","err":0.65},{"m":1197,"net":"20","err":0.867},{"m":1272,"net":"20","err":0.77},{"m":1348,"net":"20","err":0.564},{"m":1423,"net":"20","err":0.732},{"m":1499,"net":"20","err":0.659},{"m":1574,"net":"20","err":0.713},{"m":1649,"net":"20","err":0.732},{"m":1725,"net":"20","err":0.521},{"m":1800,"net":"20","err":0.521},{"m":1876,"net":"20","err":0.489},{"m":1951,"net":"20","err":0.457},{"m":2026,"net":"20","err":0.446},{"m":2102,"net":"20","err":0.362},{"m":2177,"net":"20","err":0.549},{"m":2253,"net":"20","err":0.452}
],
"p5": [
{"m":66,"net":"1","err":3.38e-2},{"m":141,"net":"1","err":2.18e-2},{"m":217,"net":"1","err":1.45e-2},{"m":292,"net":"1","err":1.32e-2},{"m":368,"net":"1","err":1.28e-2},{"m":443,"net":"1","err":1.32e-2},{"m":518,"net":"1","err":1.38e-2},{"m":594,"net":"1","err":1.43e-2},{"m":669,"net":"1","err":1.45e-2},{"m":745,"net":"1","err":1.5e-2},{"m":820,"net":"1","err":1.5e-2},{"m":895,"net":"1","err":1.41e-2},{"m":971,"net":"1","err":1.36e-2},{"m":1046,"net":"1","err":1.12e-2},{"m":1122,"net":"1","err":1.28e-2},{"m":1197,"net":"1","err":1.24e-2},{"m":1272,"net":"1","err":1.05e-2},{"m":1348,"net":"1","err":1.08e-2},{"m":1423,"net":"1","err":9.84e-3},{"m":1499,"net":"1","err":9.22e-3},{"m":1574,"net":"1","err":8.65e-3},{"m":1649,"net":"1","err":7.35e-3},{"m":1725,"net":"1","err":8.1e-3},{"m":1800,"net":"1","err":8.93e-3},{"m":1876,"net":"1","err":6.46e-3},{"m":1951,"net":"1","err":8.38e-3},{"m":2026,"net":"1","err":8.1e-3},{"m":2102,"net":"1","err":7.11e-3},{"m":2177,"net":"1","err":6.46e-3},{"m":2253,"net":"1","err":6.89e-3},
{"m":66,"net":"2","err":3.27e-2},{"m":141,"net":"2","err":1.45e-2},{"m":217,"net":"2","err":1.08e-2},{"m":292,"net":"2","err":1.32e-2},{"m":368,"net":"2","err":1.08e-2},{"m":443,"net":"2","err":1.16e-2},{"m":518,"net":"2","err":9.53e-3},{"m":594,"net":"2","err":1.02e-2},{"m":669,"net":"2","err":9.84e-3},{"m":745,"net":"2","err":9.22e-3},{"m":820,"net":"2","err":1.08e-2},{"m":895,"net":"2","err":7.84e-3},{"m":971,"net":"2","err":8.38e-3},{"m":1046,"net":"2","err":7.35e-3},{"m":1122,"net":"2","err":7.35e-3},{"m":1197,"net":"2","err":6.46e-3},{"m":1272,"net":"2","err":6.05e-3},{"m":1348,"net":"2","err":6.67e-3},{"m":1423,"net":"2","err":5.68e-3},{"m":1499,"net":"2","err":6.05e-3},{"m":1574,"net":"2","err":5.86e-3},{"m":1649,"net":"2","err":5.68e-3},{"m":1725,"net":"2","err":4.98e-3},{"m":1800,"net":"2","err":3.85e-3},{"m":1876,"net":"2","err":5.14e-3},{"m":1951,"net":"2","err":4.1e-3},{"m":2026,"net":"2","err":4.38e-3},{"m":2102,"net":"2","err":4.67e-3},{"m":2177,"net":"2","err":4.82e-3},{"m":2253,"net":"2","err":4.38e-3},
{"m":66,"net":"3","err":3.27e-2},{"m":141,"net":"3","err":2.21e-2},{"m":217,"net":"3","err":1.82e-2},{"m":292,"net":"3","err":1.63e-2},{"m":368,"net":"3","err":1.28e-2},{"m":443,"net":"3","err":1.18e-2},{"m":518,"net":"3","err":1.18e-2},{"m":594,"net":"3","err":1.16e-2},{"m":669,"net":"3","err":1.05e-2},{"m":745,"net":"3","err":1.12e-2},{"m":820,"net":"3","err":9.53e-3},{"m":895,"net":"3","err":1.05e-2},{"m":971,"net":"3","err":9.53e-3},{"m":1046,"net":"3","err":9.53e-3},{"m":1122,"net":"3","err":9.22e-3},{"m":1197,"net":"3","err":8.79e-3},{"m":1272,"net":"3","err":9.53e-3},{"m":1348,"net":"3","err":8.65e-3},{"m":1423,"net":"3","err":8.38e-3},{"m":1499,"net":"3","err":8.93e-3},{"m":1574,"net":"3","err":8.93e-3},{"m":1649,"net":"3","err":8.93e-3},{"m":1725,"net":"3","err":8.65e-3},{"m":1800,"net":"3","err":8.79e-3},{"m":1876,"net":"3","err":7.84e-3},{"m":1951,"net":"3","err":7.84e-3},{"m":2026,"net":"3","err":7.59e-3},{"m":2102,"net":"3","err":7.11e-3},{"m":2177,"net":"3","err":8.1e-3},{"m":2253,"net":"3","err":8.38e-3},
{"m":66,"net":"4","err":2.52e-2},{"m":141,"net":"4","err":2.32e-2},{"m":217,"net":"4","err":1.91e-2},{"m":292,"net":"4","err":1.41e-2},{"m":368,"net":"4","err":1.32e-2},{"m":443,"net":"4","err":1.18e-2},{"m":518,"net":"4","err":9.84e-3},{"m":594,"net":"4","err":1.02e-2},{"m":669,"net":"4","err":1.0e-2},{"m":745,"net":"4","err":9.22e-3},{"m":820,"net":"4","err":8.65e-3},{"m":895,"net":"4","err":8.65e-3},{"m":971,"net":"4","err":7.84e-3},{"m":1046,"net":"4","err":8.23e-3},{"m":1122,"net":"4","err":8.51e-3},{"m":1197,"net":"4","err":7.11e-3},{"m":1272,"net":"4","err":7.59e-3},{"m":1348,"net":"4","err":6.89e-3},{"m":1423,"net":"4","err":7.11e-3},{"m":1499,"net":"4","err":6.46e-3},{"m":1574,"net":"4","err":6.25e-3},{"m":1649,"net":"4","err":6.89e-3},{"m":1725,"net":"4","err":6.67e-3},{"m":1800,"net":"4","err":6.25e-3},{"m":1876,"net":"4","err":7.11e-3},{"m":1951,"net":"4","err":7.11e-3},{"m":2026,"net":"4","err":5.86e-3},{"m":2102,"net":"4","err":6.46e-3},{"m":2177,"net":"4","err":5.86e-3},{"m":2253,"net":"4","err":5.48e-3},
{"m":66,"net":"5","err":3.6e-2},{"m":141,"net":"5","err":2.65e-2},{"m":217,"net":"5","err":2.32e-2},{"m":292,"net":"5","err":2.14e-2},{"m":368,"net":"5","err":1.91e-2},{"m":443,"net":"5","err":1.76e-2},{"m":518,"net":"5","err":1.63e-2},{"m":594,"net":"5","err":1.55e-2},{"m":669,"net":"5","err":1.6e-2},{"m":745,"net":"5","err":1.63e-2},{"m":820,"net":"5","err":1.55e-2},{"m":895,"net":"5","err":1.45e-2},{"m":971,"net":"5","err":1.41e-2},{"m":1046,"net":"5","err":1.5e-2},{"m":1122,"net":"5","err":1.41e-2},{"m":1197,"net":"5","err":1.32e-2},{"m":1272,"net":"5","err":1.28e-2},{"m":1348,"net":"5","err":1.32e-2},{"m":1423,"net":"5","err":1.19e-2},{"m":1499,"net":"5","err":1.19e-2},{"m":1574,"net":"5","err":1.24e-2},{"m":1649,"net":"5","err":1.28e-2},{"m":1725,"net":"5","err":1.24e-2},{"m":1800,"net":"5","err":1.28e-2},{"m":1876,"net":"5","err":1.24e-2},{"m":1951,"net":"5","err":1.12e-2},{"m":2026,"net":"5","err":1.16e-2},{"m":2102,"net":"5","err":1.12e-2},{"m":2177,"net":"5","err":1.07e-2},{"m":2253,"net":"5","err":1.12e-2},
{"m":66,"net":"10","err":0.248},{"m":141,"net":"10","err":0.211},{"m":217,"net":"10","err":0.191},{"m":292,"net":"10","err":0.171},{"m":368,"net":"10","err":0.171},{"m":443,"net":"10","err":0.13},{"m":518,"net":"10","err":0.152},{"m":594,"net":"10","err":0.152},{"m":669,"net":"10","err":0.138},{"m":745,"net":"10","err":0.138},{"m":820,"net":"10","err":0.134},{"m":895,"net":"10","err":0.134},{"m":971,"net":"10","err":0.128},{"m":1046,"net":"10","err":0.105},{"m":1122,"net":"10","err":0.119},{"m":1197,"net":"10","err":0.132},{"m":1272,"net":"10","err":0.102},{"m":1348,"net":"10","err":0.108},{"m":1423,"net":"10","err":0.0937},{"m":1499,"net":"10","err":0.108},{"m":1574,"net":"10","err":0.0984},{"m":1649,"net":"10","err":0.116},{"m":1725,"net":"10","err":0.0984},{"m":1800,"net":"10","err":0.0823},{"m":1876,"net":"10","err":0.0838},{"m":1951,"net":"10","err":0.0893},{"m":2026,"net":"10","err":0.0968},{"m":2102,"net":"10","err":0.0922},{"m":2177,"net":"10","err":0.105},{"m":2253,"net":"10","err":0.0907},
{"m":66,"net":"20","err":115},{"m":141,"net":"20","err":108},{"m":217,"net":"20","err":106},{"m":292,"net":"20","err":88.7},{"m":368,"net":"20","err":93},{"m":443,"net":"20","err":91.6},{"m":518,"net":"20","err":81.7},{"m":594,"net":"20","err":73},{"m":669,"net":"20","err":75.4},{"m":745,"net":"20","err":76.6},{"m":820,"net":"20","err":63},{"m":895,"net":"20","err":88.7},{"m":971,"net":"20","err":73},{"m":1046,"net":"20","err":75.4},{"m":1122,"net":"20","err":70.6},{"m":1197,"net":"20","err":67.3},{"m":1272,"net":"20","err":71.8},{"m":1348,"net":"20","err":69.5},{"m":1423,"net":"20","err":76.6},{"m":1499,"net":"20","err":84.4},{"m":1574,"net":"20","err":70.6},{"m":1649,"net":"20","err":77.8},{"m":1725,"net":"20","err":83},{"m":1800,"net":"20","err":71.8},{"m":1876,"net":"20","err":81.7},{"m":1951,"net":"20","err":88.7},{"m":2026,"net":"20","err":75.4},{"m":2102,"net":"20","err":73},{"m":2177,"net":"20","err":88.7},{"m":2253,"net":"20","err":79}
],
"table": [
{"row":1,"beta":"0.5","arch":"10 × 20","params":"(4 × 10³)"},
{"row":2,"beta":"0.2","arch":"5 × 25","params":"(3 × 10³)"},
{"row":3,"beta":"0.1","arch":"10 × 100","params":"(1 × 10⁵)"},
{"row":4,"beta":"0.05","arch":"5 × 100","params":"(5 × 10⁴)"},
{"row":5,"beta":"0.025","arch":"2 × 80","params":"(1 × 10⁴)"}
]
},
"vconcat": [
{"hconcat": [
 {"width": 450, "height": 450, "layer": [
  {"data": {"name": "l1"}, "transform": [{"filter": "datum.net == 'unweighted'"}],
   "mark": {"type": "line", "strokeWidth": 1.3, "point": {"filled": false, "shape": "circle", "size": 55, "strokeWidth": 1.2}},
   "encoding": {
    "x": {"field": "m", "type": "quantitative", "scale": {"domain": [63, 2482], "nice": false, "zero": false}, "axis": {"values": [500, 1000, 1500, 2000], "title": "m (uniform random samples)"}},
    "y": {"field": "err", "type": "quantitative", "scale": {"type": "log", "domain": [4.13e-8, 0.011], "nice": false},
      "axis": {"title": "Average relative L² error",
       "values": [5e-8,6e-8,7e-8,8e-8,9e-8,1e-7,2e-7,3e-7,4e-7,5e-7,6e-7,7e-7,8e-7,9e-7,1e-6,2e-6,3e-6,4e-6,5e-6,6e-6,7e-6,8e-6,9e-6,1e-5,2e-5,3e-5,4e-5,5e-5,6e-5,7e-5,8e-5,9e-5,1e-4,2e-4,3e-4,4e-4,5e-4,6e-4,7e-4,8e-4,9e-4,1e-3,2e-3,3e-3,4e-3,5e-3,6e-3,7e-3,8e-3,9e-3,1e-2],
       "labelExpr": "datum.value == 1e-2 ? '10⁻²' : datum.value == 1e-4 ? '10⁻⁴' : datum.value == 1e-6 ? '10⁻⁶' : ''",
       "gridDash": {"condition": {"test": "datum.value == 1e-2 || datum.value == 1e-4 || datum.value == 1e-6", "value": []}, "value": [1, 2]},
       "gridColor": {"condition": {"test": "datum.value == 1e-2 || datum.value == 1e-4 || datum.value == 1e-6", "value": "#dedede"}, "value": "#c4c4c4"}}},
    "stroke": {"field": "net", "type": "nominal", "scale": {"domain": ["1","2","3","4","5","10","20","unweighted","weighted"], "range": ["#000000","#0072BD","#D95319","#EDB120","#7E2F8E","#77AC30","#4DBEEE","#A2142F","#1F9BFF"]}, "legend": null}
   }},
  {"data": {"name": "l1"}, "transform": [{"filter": "datum.net == 'weighted'"}],
   "mark": {"type": "line", "strokeWidth": 1.3, "point": {"filled": false, "shape": "circle", "size": 55, "strokeWidth": 1.2}},
   "encoding": {
    "x": {"field": "m", "type": "quantitative", "scale": {"domain": [63, 2482], "nice": false, "zero": false}},
    "y": {"field": "err", "type": "quantitative", "scale": {"type": "log", "domain": [4.13e-8, 0.011], "nice": false}},
    "stroke": {"field": "net", "type": "nominal", "scale": {"domain": ["1","2","3","4","5","10","20","unweighted","weighted"], "range": ["#000000","#0072BD","#D95319","#EDB120","#7E2F8E","#77AC30","#4DBEEE","#A2142F","#1F9BFF"]}, "legend": null}
   }},
  {"data": {"name": "p1"},
   "mark": {"type": "line", "strokeWidth": 1, "strokeDash": [5, 3.5], "point": {"filled": false, "shape": "square", "size": 22, "strokeWidth": 1}},
   "encoding": {
    "x": {"field": "m", "type": "quantitative", "scale": {"domain": [63, 2482], "nice": false, "zero": false}},
    "y": {"field": "err", "type": "quantitative", "scale": {"type": "log", "domain": [4.13e-8, 0.011], "nice": false}},
    "stroke": {"field": "net", "type": "nominal", "scale": {"domain": ["1","2","3","4","5","10","20","unweighted","weighted"], "range": ["#000000","#0072BD","#D95319","#EDB120","#7E2F8E","#77AC30","#4DBEEE","#A2142F","#1F9BFF"]}, "legend": null}
   }},
  {"data": {"name": "l1"}, "transform": [{"filter": "datum.m < 0"}], "mark": {"type": "point", "filled": false},
   "encoding": {
    "x": {"field": "m", "type": "quantitative", "scale": {"domain": [63, 2482], "nice": false, "zero": false}},
    "y": {"field": "err", "type": "quantitative", "scale": {"type": "log", "domain": [4.13e-8, 0.011], "nice": false}},
    "color": {"field": "net", "type": "nominal", "scale": {"domain": ["unweighted","weighted","1","2","3","4","5","10","20"], "range": ["#A2142F","#1F9BFF","#000000","#0072BD","#D95319","#EDB120","#7E2F8E","#77AC30","#4DBEEE"]},
      "legend": {"orient": "none", "legendX": 188, "legendY": 135, "title": null, "labelExpr": "datum.label == 'unweighted' ? 'unweighted ℓ₁-minimization' : datum.label == 'weighted' ? 'weighted ℓ₁-minimization' : 'ReLU ' + datum.label + ' × ' + (2 * toNumber(datum.label)) + ' DNN'"}},
    "shape": {"field": "net", "type": "nominal", "scale": {"domain": ["unweighted","weighted","1","2","3","4","5","10","20"], "range": ["M-1,0L-0.4,0M0.4,0L1,0M-0.4,0A0.4,0.4,0,1,0,0.4,0A0.4,0.4,0,1,0,-0.4,0","M-1,0L-0.4,0M0.4,0L1,0M-0.4,0A0.4,0.4,0,1,0,0.4,0A0.4,0.4,0,1,0,-0.4,0","M-1,0L-0.55,0M0.55,0L1,0M-0.2,-0.2L0.2,-0.2L0.2,0.2L-0.2,0.2Z","M-1,0L-0.55,0M0.55,0L1,0M-0.2,-0.2L0.2,-0.2L0.2,0.2L-0.2,0.2Z","M-1,0L-0.55,0M0.55,0L1,0M-0.2,-0.2L0.2,-0.2L0.2,0.2L-0.2,0.2Z","M-1,0L-0.55,0M0.55,0L1,0M-0.2,-0.2L0.2,-0.2L0.2,0.2L-0.2,0.2Z","M-1,0L-0.55,0M0.55,0L1,0M-0.2,-0.2L0.2,-0.2L0.2,0.2L-0.2,0.2Z","M-1,0L-0.55,0M0.55,0L1,0M-0.2,-0.2L0.2,-0.2L0.2,0.2L-0.2,0.2Z","M-1,0L-0.55,0M0.55,0L1,0M-0.2,-0.2L0.2,-0.2L0.2,0.2L-0.2,0.2Z"]},
      "legend": {"orient": "none", "legendX": 188, "legendY": 135, "title": null, "labelExpr": "datum.label == 'unweighted' ? 'unweighted ℓ₁-minimization' : datum.label == 'weighted' ? 'weighted ℓ₁-minimization' : 'ReLU ' + datum.label + ' × ' + (2 * toNumber(datum.label)) + ' DNN'"}}
   }}
 ]},
 {"width": 450, "height": 450, "layer": [
  {"data": {"name": "l1"}, "transform": [{"filter": "datum.net == 'unweighted'"}],
   "mark": {"type": "line", "strokeWidth": 1.3, "point": {"filled": false, "shape": "circle", "size": 55, "strokeWidth": 1.2}},
   "encoding": {
    "x": {"field": "m", "type": "quantitative", "scale": {"domain": [63, 2482], "nice": false, "zero": false}, "axis": {"values": [500, 1000, 1500, 2000], "title": "m (uniform random samples)"}},
    "y": {"field": "err", "type": "quantitative", "scale": {"type": "log", "domain": [4.04e-8, 0.0196], "nice": false},
      "axis": {"title": "Average relative L² error",
       "values": [5e-8,6e-8,7e-8,8e-8,9e-8,1e-7,2e-7,3e-7,4e-7,5e-7,6e-7,7e-7,8e-7,9e-7,1e-6,2e-6,3e-6,4e-6,5e-6,6e-6,7e-6,8e-6,9e-6,1e-5,2e-5,3e-5,4e-5,5e-5,6e-5,7e-5,8e-5,9e-5,1e-4,2e-4,3e-4,4e-4,5e-4,6e-4,7e-4,8e-4,9e-4,1e-3,2e-3,3e-3,4e-3,5e-3,6e-3,7e-3,8e-3,9e-3,1e-2],
       "labelExpr": "datum.value == 1e-2 ? '10⁻²' : datum.value == 1e-4 ? '10⁻⁴' : datum.value == 1e-6 ? '10⁻⁶' : ''",
       "gridDash": {"condition": {"test": "datum.value == 1e-2 || datum.value == 1e-4 || datum.value == 1e-6", "value": []}, "value": [1, 2]},
       "gridColor": {"condition": {"test": "datum.value == 1e-2 || datum.value == 1e-4 || datum.value == 1e-6", "value": "#dedede"}, "value": "#c4c4c4"}}},
    "stroke": {"field": "net", "type": "nominal", "scale": {"domain": ["1","2","3","4","5","10","20","unweighted","weighted"], "range": ["#000000","#0072BD","#D95319","#EDB120","#7E2F8E","#77AC30","#4DBEEE","#A2142F","#1F9BFF"]}, "legend": null}
   }},
  {"data": {"name": "l1"}, "transform": [{"filter": "datum.net == 'weighted'"}],
   "mark": {"type": "line", "strokeWidth": 1.3, "point": {"filled": false, "shape": "square", "size": 50, "strokeWidth": 1.2}},
   "encoding": {
    "x": {"field": "m", "type": "quantitative", "scale": {"domain": [63, 2482], "nice": false, "zero": false}},
    "y": {"field": "err", "type": "quantitative", "scale": {"type": "log", "domain": [4.04e-8, 0.0196], "nice": false}},
    "stroke": {"field": "net", "type": "nominal", "scale": {"domain": ["1","2","3","4","5","10","20","unweighted","weighted"], "range": ["#000000","#0072BD","#D95319","#EDB120","#7E2F8E","#77AC30","#4DBEEE","#A2142F","#1F9BFF"]}, "legend": null}
   }},
  {"data": {"name": "p2"},
   "mark": {"type": "line", "strokeWidth": 1, "strokeDash": [5, 3.5], "point": {"filled": false, "shape": "square", "size": 22, "strokeWidth": 1}},
   "encoding": {
    "x": {"field": "m", "type": "quantitative", "scale": {"domain": [63, 2482], "nice": false, "zero": false}},
    "y": {"field": "err", "type": "quantitative", "scale": {"type": "log", "domain": [4.04e-8, 0.0196], "nice": false}},
    "stroke": {"field": "net", "type": "nominal", "scale": {"domain": ["1","2","3","4","5","10","20","unweighted","weighted"], "range": ["#000000","#0072BD","#D95319","#EDB120","#7E2F8E","#77AC30","#4DBEEE","#A2142F","#1F9BFF"]}, "legend": null}
   }},
  {"data": {"name": "l1"}, "transform": [{"filter": "datum.m < 0"}], "mark": {"type": "point", "filled": false},
   "encoding": {
    "x": {"field": "m", "type": "quantitative", "scale": {"domain": [63, 2482], "nice": false, "zero": false}},
    "y": {"field": "err", "type": "quantitative", "scale": {"type": "log", "domain": [4.04e-8, 0.0196], "nice": false}},
    "color": {"field": "net", "type": "nominal", "scale": {"domain": ["unweighted","weighted","1","2","3","4","5","10","20"], "range": ["#A2142F","#1F9BFF","#000000","#0072BD","#D95319","#EDB120","#7E2F8E","#77AC30","#4DBEEE"]},
      "legend": {"orient": "none", "legendX": 183, "legendY": 142, "title": null, "labelExpr": "datum.label == 'unweighted' ? 'unweighted ℓ₁-minimization' : datum.label == 'weighted' ? 'weighted ℓ₁-minimization' : 'ReLU ' + datum.label + ' × ' + (5 * toNumber(datum.label)) + ' DNN'"}},
    "shape": {"field": "net", "type": "nominal", "scale": {"domain": ["unweighted","weighted","1","2","3","4","5","10","20"], "range": ["M-1,0L-0.4,0M0.4,0L1,0M-0.4,0A0.4,0.4,0,1,0,0.4,0A0.4,0.4,0,1,0,-0.4,0","M-1,0L-0.36,0M0.36,0L1,0M-0.36,-0.36L0.36,-0.36L0.36,0.36L-0.36,0.36Z","M-1,0L-0.55,0M0.55,0L1,0M-0.2,-0.2L0.2,-0.2L0.2,0.2L-0.2,0.2Z","M-1,0L-0.55,0M0.55,0L1,0M-0.2,-0.2L0.2,-0.2L0.2,0.2L-0.2,0.2Z","M-1,0L-0.55,0M0.55,0L1,0M-0.2,-0.2L0.2,-0.2L0.2,0.2L-0.2,0.2Z","M-1,0L-0.55,0M0.55,0L1,0M-0.2,-0.2L0.2,-0.2L0.2,0.2L-0.2,0.2Z","M-1,0L-0.55,0M0.55,0L1,0M-0.2,-0.2L0.2,-0.2L0.2,0.2L-0.2,0.2Z","M-1,0L-0.55,0M0.55,0L1,0M-0.2,-0.2L0.2,-0.2L0.2,0.2L-0.2,0.2Z","M-1,0L-0.55,0M0.55,0L1,0M-0.2,-0.2L0.2,-0.2L0.2,0.2L-0.2,0.2Z"]},
      "legend": {"orient": "none", "legendX": 183, "legendY": 142, "title": null, "labelExpr": "datum.label == 'unweighted' ? 'unweighted ℓ₁-minimization' : datum.label == 'weighted' ? 'weighted ℓ₁-minimization' : 'ReLU ' + datum.label + ' × ' + (5 * toNumber(datum.label)) + ' DNN'"}}
   }}
 ]},
 {"width": 450, "height": 450, "layer": [
  {"data": {"name": "l1"}, "transform": [{"filter": "datum.net == 'unweighted'"}],
   "mark": {"type": "line", "strokeWidth": 1.3, "point": {"filled": false, "shape": "circle", "size": 55, "strokeWidth": 1.2}},
   "encoding": {
    "x": {"field": "m", "type": "quantitative", "scale": {"domain": [63, 2482], "nice": false, "zero": false}, "axis": {"values": [500, 1000, 1500, 2000], "title": "m (uniform random samples)"}},
    "y": {"field": "err", "type": "quantitative", "scale": {"type": "log", "domain": [4.03e-8, 0.0267], "nice": false},
      "axis": {"title": "Average relative L² error",
       "values": [5e-8,6e-8,7e-8,8e-8,9e-8,1e-7,2e-7,3e-7,4e-7,5e-7,6e-7,7e-7,8e-7,9e-7,1e-6,2e-6,3e-6,4e-6,5e-6,6e-6,7e-6,8e-6,9e-6,1e-5,2e-5,3e-5,4e-5,5e-5,6e-5,7e-5,8e-5,9e-5,1e-4,2e-4,3e-4,4e-4,5e-4,6e-4,7e-4,8e-4,9e-4,1e-3,2e-3,3e-3,4e-3,5e-3,6e-3,7e-3,8e-3,9e-3,1e-2,2e-2],
       "labelExpr": "datum.value == 1e-2 ? '10⁻²' : datum.value == 1e-4 ? '10⁻⁴' : datum.value == 1e-6 ? '10⁻⁶' : ''",
       "gridDash": {"condition": {"test": "datum.value == 1e-2 || datum.value == 1e-4 || datum.value == 1e-6", "value": []}, "value": [1, 2]},
       "gridColor": {"condition": {"test": "datum.value == 1e-2 || datum.value == 1e-4 || datum.value == 1e-6", "value": "#dedede"}, "value": "#c4c4c4"}}},
    "stroke": {"field": "net", "type": "nominal", "scale": {"domain": ["1","2","3","4","5","10","20","unweighted","weighted"], "range": ["#000000","#0072BD","#D95319","#EDB120","#7E2F8E","#77AC30","#4DBEEE","#A2142F","#1F9BFF"]}, "legend": null}
   }},
  {"data": {"name": "l1"}, "transform": [{"filter": "datum.net == 'weighted'"}],
   "mark": {"type": "line", "strokeWidth": 1.3, "point": {"filled": false, "shape": "circle", "size": 55, "strokeWidth": 1.2}},
   "encoding": {
    "x": {"field": "m", "type": "quantitative", "scale": {"domain": [63, 2482], "nice": false, "zero": false}},
    "y": {"field": "err", "type": "quantitative", "scale": {"type": "log", "domain": [4.03e-8, 0.0267], "nice": false}},
    "stroke": {"field": "net", "type": "nominal", "scale": {"domain": ["1","2","3","4","5","10","20","unweighted","weighted"], "range": ["#000000","#0072BD","#D95319","#EDB120","#7E2F8E","#77AC30","#4DBEEE","#A2142F","#1F9BFF"]}, "legend": null}
   }},
  {"data": {"name": "p3"},
   "mark": {"type": "line", "strokeWidth": 1, "strokeDash": [5, 3.5], "point": {"filled": false, "shape": "square", "size": 22, "strokeWidth": 1}},
   "encoding": {
    "x": {"field": "m", "type": "quantitative", "scale": {"domain": [63, 2482], "nice": false, "zero": false}},
    "y": {"field": "err", "type": "quantitative", "scale": {"type": "log", "domain": [4.03e-8, 0.0267], "nice": false}},
    "stroke": {"field": "net", "type": "nominal", "scale": {"domain": ["1","2","3","4","5","10","20","unweighted","weighted"], "range": ["#000000","#0072BD","#D95319","#EDB120","#7E2F8E","#77AC30","#4DBEEE","#A2142F","#1F9BFF"]}, "legend": null}
   }},
  {"data": {"name": "l1"}, "transform": [{"filter": "datum.m < 0"}], "mark": {"type": "point", "filled": false},
   "encoding": {
    "x": {"field": "m", "type": "quantitative", "scale": {"domain": [63, 2482], "nice": false, "zero": false}},
    "y": {"field": "err", "type": "quantitative", "scale": {"type": "log", "domain": [4.03e-8, 0.0267], "nice": false}},
    "color": {"field": "net", "type": "nominal", "scale": {"domain": ["unweighted","weighted","1","2","3","4","5","10","20"], "range": ["#A2142F","#1F9BFF","#000000","#0072BD","#D95319","#EDB120","#7E2F8E","#77AC30","#4DBEEE"]},
      "legend": {"orient": "none", "legendX": 184, "legendY": 146, "title": null, "labelExpr": "datum.label == 'unweighted' ? 'unweighted ℓ₁-minimization' : datum.label == 'weighted' ? 'weighted ℓ₁-minimization' : 'ReLU ' + datum.label + ' × ' + (10 * toNumber(datum.label)) + ' DNN'"}},
    "shape": {"field": "net", "type": "nominal", "scale": {"domain": ["unweighted","weighted","1","2","3","4","5","10","20"], "range": ["M-1,0L-0.4,0M0.4,0L1,0M-0.4,0A0.4,0.4,0,1,0,0.4,0A0.4,0.4,0,1,0,-0.4,0","M-1,0L-0.4,0M0.4,0L1,0M-0.4,0A0.4,0.4,0,1,0,0.4,0A0.4,0.4,0,1,0,-0.4,0","M-1,0L-0.55,0M0.55,0L1,0M-0.2,-0.2L0.2,-0.2L0.2,0.2L-0.2,0.2Z","M-1,0L-0.55,0M0.55,0L1,0M-0.2,-0.2L0.2,-0.2L0.2,0.2L-0.2,0.2Z","M-1,0L-0.55,0M0.55,0L1,0M-0.2,-0.2L0.2,-0.2L0.2,0.2L-0.2,0.2Z","M-1,0L-0.55,0M0.55,0L1,0M-0.2,-0.2L0.2,-0.2L0.2,0.2L-0.2,0.2Z","M-1,0L-0.55,0M0.55,0L1,0M-0.2,-0.2L0.2,-0.2L0.2,0.2L-0.2,0.2Z","M-1,0L-0.55,0M0.55,0L1,0M-0.2,-0.2L0.2,-0.2L0.2,0.2L-0.2,0.2Z","M-1,0L-0.55,0M0.55,0L1,0M-0.2,-0.2L0.2,-0.2L0.2,0.2L-0.2,0.2Z"]},
      "legend": {"orient": "none", "legendX": 184, "legendY": 146, "title": null, "labelExpr": "datum.label == 'unweighted' ? 'unweighted ℓ₁-minimization' : datum.label == 'weighted' ? 'weighted ℓ₁-minimization' : 'ReLU ' + datum.label + ' × ' + (10 * toNumber(datum.label)) + ' DNN'"}}
   }}
 ]}
], "spacing": 40,
 "resolve": {"scale": {"x": "independent", "y": "independent", "color": "independent", "shape": "independent", "stroke": "independent"}, "legend": {"color": "independent", "shape": "independent"}}},
{"hconcat": [
 {"hconcat": [
 {"width": 450, "height": 450, "layer": [
  {"data": {"name": "l1"}, "transform": [{"filter": "datum.net == 'unweighted'"}],
   "mark": {"type": "line", "strokeWidth": 1.3, "point": {"filled": false, "shape": "circle", "size": 55, "strokeWidth": 1.2}},
   "encoding": {
    "x": {"field": "m", "type": "quantitative", "scale": {"domain": [63, 2482], "nice": false, "zero": false}, "axis": {"values": [500, 1000, 1500, 2000], "title": "m (uniform random samples)"}},
    "y": {"field": "err", "type": "quantitative", "scale": {"type": "log", "domain": [3.86e-8, 1.75], "nice": false},
      "axis": {"title": "Average relative L² error",
       "values": [4e-8,5e-8,6e-8,7e-8,8e-8,9e-8,1e-7,2e-7,3e-7,4e-7,5e-7,6e-7,7e-7,8e-7,9e-7,1e-6,2e-6,3e-6,4e-6,5e-6,6e-6,7e-6,8e-6,9e-6,1e-5,2e-5,3e-5,4e-5,5e-5,6e-5,7e-5,8e-5,9e-5,1e-4,2e-4,3e-4,4e-4,5e-4,6e-4,7e-4,8e-4,9e-4,1e-3,2e-3,3e-3,4e-3,5e-3,6e-3,7e-3,8e-3,9e-3,1e-2,2e-2,3e-2,4e-2,5e-2,6e-2,7e-2,8e-2,9e-2,1e-1,2e-1,3e-1,4e-1,5e-1,6e-1,7e-1,8e-1,9e-1,1],
       "labelExpr": "datum.value == 1 ? '10⁰' : datum.value == 1e-2 ? '10⁻²' : datum.value == 1e-4 ? '10⁻⁴' : datum.value == 1e-6 ? '10⁻⁶' : ''",
       "gridDash": {"condition": {"test": "datum.value == 1 || datum.value == 1e-2 || datum.value == 1e-4 || datum.value == 1e-6", "value": []}, "value": [1, 2]},
       "gridColor": {"condition": {"test": "datum.value == 1 || datum.value == 1e-2 || datum.value == 1e-4 || datum.value == 1e-6", "value": "#dedede"}, "value": "#c4c4c4"}}},
    "stroke": {"field": "net", "type": "nominal", "scale": {"domain": ["1","2","3","4","5","10","20","unweighted","weighted"], "range": ["#000000","#0072BD","#D95319","#EDB120","#7E2F8E","#77AC30","#4DBEEE","#A2142F","#1F9BFF"]}, "legend": null}
   }},
  {"data": {"name": "l1"}, "transform": [{"filter": "datum.net == 'weighted'"}],
   "mark": {"type": "line", "strokeWidth": 1.3, "point": {"filled": false, "shape": "circle", "size": 55, "strokeWidth": 1.2}},
   "encoding": {
    "x": {"field": "m", "type": "quantitative", "scale": {"domain": [63, 2482], "nice": false, "zero": false}},
    "y": {"field": "err", "type": "quantitative", "scale": {"type": "log", "domain": [3.86e-8, 1.75], "nice": false}},
    "stroke": {"field": "net", "type": "nominal", "scale": {"domain": ["1","2","3","4","5","10","20","unweighted","weighted"], "range": ["#000000","#0072BD","#D95319","#EDB120","#7E2F8E","#77AC30","#4DBEEE","#A2142F","#1F9BFF"]}, "legend": null}
   }},
  {"data": {"name": "p4"},
   "mark": {"type": "line", "strokeWidth": 1, "strokeDash": [5, 3.5], "point": {"filled": false, "shape": "square", "size": 22, "strokeWidth": 1}},
   "encoding": {
    "x": {"field": "m", "type": "quantitative", "scale": {"domain": [63, 2482], "nice": false, "zero": false}},
    "y": {"field": "err", "type": "quantitative", "scale": {"type": "log", "domain": [3.86e-8, 1.75], "nice": false}},
    "stroke": {"field": "net", "type": "nominal", "scale": {"domain": ["1","2","3","4","5","10","20","unweighted","weighted"], "range": ["#000000","#0072BD","#D95319","#EDB120","#7E2F8E","#77AC30","#4DBEEE","#A2142F","#1F9BFF"]}, "legend": null}
   }},
  {"data": {"name": "l1"}, "transform": [{"filter": "datum.m < 0"}], "mark": {"type": "point", "filled": false},
   "encoding": {
    "x": {"field": "m", "type": "quantitative", "scale": {"domain": [63, 2482], "nice": false, "zero": false}},
    "y": {"field": "err", "type": "quantitative", "scale": {"type": "log", "domain": [3.86e-8, 1.75], "nice": false}},
    "color": {"field": "net", "type": "nominal", "scale": {"domain": ["unweighted","weighted","1","2","3","4","5","10","20"], "range": ["#A2142F","#1F9BFF","#000000","#0072BD","#D95319","#EDB120","#7E2F8E","#77AC30","#4DBEEE"]},
      "legend": {"orient": "none", "legendX": 179, "legendY": 210, "title": null, "labelExpr": "datum.label == 'unweighted' ? 'unweighted ℓ₁-minimization' : datum.label == 'weighted' ? 'weighted ℓ₁-minimization' : 'ReLU ' + datum.label + ' × ' + (20 * toNumber(datum.label)) + ' DNN'"}},
    "shape": {"field": "net", "type": "nominal", "scale": {"domain": ["unweighted","weighted","1","2","3","4","5","10","20"], "range": ["M-1,0L-0.4,0M0.4,0L1,0M-0.4,0A0.4,0.4,0,1,0,0.4,0A0.4,0.4,0,1,0,-0.4,0","M-1,0L-0.4,0M0.4,0L1,0M-0.4,0A0.4,0.4,0,1,0,0.4,0A0.4,0.4,0,1,0,-0.4,0","M-1,0L-0.55,0M0.55,0L1,0M-0.2,-0.2L0.2,-0.2L0.2,0.2L-0.2,0.2Z","M-1,0L-0.55,0M0.55,0L1,0M-0.2,-0.2L0.2,-0.2L0.2,0.2L-0.2,0.2Z","M-1,0L-0.55,0M0.55,0L1,0M-0.2,-0.2L0.2,-0.2L0.2,0.2L-0.2,0.2Z","M-1,0L-0.55,0M0.55,0L1,0M-0.2,-0.2L0.2,-0.2L0.2,0.2L-0.2,0.2Z","M-1,0L-0.55,0M0.55,0L1,0M-0.2,-0.2L0.2,-0.2L0.2,0.2L-0.2,0.2Z","M-1,0L-0.55,0M0.55,0L1,0M-0.2,-0.2L0.2,-0.2L0.2,0.2L-0.2,0.2Z","M-1,0L-0.55,0M0.55,0L1,0M-0.2,-0.2L0.2,-0.2L0.2,0.2L-0.2,0.2Z"]},
      "legend": {"orient": "none", "legendX": 179, "legendY": 210, "title": null, "labelExpr": "datum.label == 'unweighted' ? 'unweighted ℓ₁-minimization' : datum.label == 'weighted' ? 'weighted ℓ₁-minimization' : 'ReLU ' + datum.label + ' × ' + (20 * toNumber(datum.label)) + ' DNN'"}}
   }}
 ]},
 {"width": 450, "height": 450, "layer": [
  {"data": {"name": "l1"}, "transform": [{"filter": "datum.net == 'unweighted'"}],
   "mark": {"type": "line", "strokeWidth": 1.3, "point": {"filled": false, "shape": "circle", "size": 55, "strokeWidth": 1.2}},
   "encoding": {
    "x": {"field": "m", "type": "quantitative", "scale": {"domain": [63, 2482], "nice": false, "zero": false}, "axis": {"values": [500, 1000, 1500, 2000], "title": "m (uniform random samples)"}},
    "y": {"field": "err", "type": "quantitative", "scale": {"type": "log", "domain": [3.9e-8, 126], "nice": false},
      "axis": {"title": "Average relative L² error",
       "values": [1e-7,1e-6,1e-5,1e-4,1e-3,1e-2,1e-1,1,10,100],
       "labelExpr": "datum.value == 1 ? '10⁰' : datum.value == 1e-5 ? '10⁻⁵' : ''",
       "gridDash": {"condition": {"test": "datum.value == 1 || datum.value == 1e-5", "value": []}, "value": [1, 2]},
       "gridColor": {"condition": {"test": "datum.value == 1 || datum.value == 1e-5", "value": "#dedede"}, "value": "#c4c4c4"}}},
    "stroke": {"field": "net", "type": "nominal", "scale": {"domain": ["1","2","3","4","5","10","20","unweighted","weighted"], "range": ["#000000","#0072BD","#D95319","#EDB120","#7E2F8E","#77AC30","#4DBEEE","#A2142F","#1F9BFF"]}, "legend": null}
   }},
  {"data": {"name": "l1"}, "transform": [{"filter": "datum.net == 'weighted'"}],
   "mark": {"type": "line", "strokeWidth": 1.3, "point": {"filled": false, "shape": "circle", "size": 55, "strokeWidth": 1.2}},
   "encoding": {
    "x": {"field": "m", "type": "quantitative", "scale": {"domain": [63, 2482], "nice": false, "zero": false}},
    "y": {"field": "err", "type": "quantitative", "scale": {"type": "log", "domain": [3.9e-8, 126], "nice": false}},
    "stroke": {"field": "net", "type": "nominal", "scale": {"domain": ["1","2","3","4","5","10","20","unweighted","weighted"], "range": ["#000000","#0072BD","#D95319","#EDB120","#7E2F8E","#77AC30","#4DBEEE","#A2142F","#1F9BFF"]}, "legend": null}
   }},
  {"data": {"name": "p5"},
   "mark": {"type": "line", "strokeWidth": 1, "strokeDash": [5, 3.5], "point": {"filled": false, "shape": "square", "size": 22, "strokeWidth": 1}},
   "encoding": {
    "x": {"field": "m", "type": "quantitative", "scale": {"domain": [63, 2482], "nice": false, "zero": false}},
    "y": {"field": "err", "type": "quantitative", "scale": {"type": "log", "domain": [3.9e-8, 126], "nice": false}},
    "stroke": {"field": "net", "type": "nominal", "scale": {"domain": ["1","2","3","4","5","10","20","unweighted","weighted"], "range": ["#000000","#0072BD","#D95319","#EDB120","#7E2F8E","#77AC30","#4DBEEE","#A2142F","#1F9BFF"]}, "legend": null}
   }},
  {"data": {"name": "l1"}, "transform": [{"filter": "datum.m < 0"}], "mark": {"type": "point", "filled": false},
   "encoding": {
    "x": {"field": "m", "type": "quantitative", "scale": {"domain": [63, 2482], "nice": false, "zero": false}},
    "y": {"field": "err", "type": "quantitative", "scale": {"type": "log", "domain": [3.9e-8, 126], "nice": false}},
    "color": {"field": "net", "type": "nominal", "scale": {"domain": ["unweighted","weighted","1","2","3","4","5","10","20"], "range": ["#A2142F","#1F9BFF","#000000","#0072BD","#D95319","#EDB120","#7E2F8E","#77AC30","#4DBEEE"]},
      "legend": {"orient": "none", "legendX": 179, "legendY": 227, "title": null, "labelExpr": "datum.label == 'unweighted' ? 'unweighted ℓ₁-minimization' : datum.label == 'weighted' ? 'weighted ℓ₁-minimization' : 'ReLU ' + datum.label + ' × ' + (40 * toNumber(datum.label)) + ' DNN'"}},
    "shape": {"field": "net", "type": "nominal", "scale": {"domain": ["unweighted","weighted","1","2","3","4","5","10","20"], "range": ["M-1,0L-0.4,0M0.4,0L1,0M-0.4,0A0.4,0.4,0,1,0,0.4,0A0.4,0.4,0,1,0,-0.4,0","M-1,0L-0.4,0M0.4,0L1,0M-0.4,0A0.4,0.4,0,1,0,0.4,0A0.4,0.4,0,1,0,-0.4,0","M-1,0L-0.55,0M0.55,0L1,0M-0.2,-0.2L0.2,-0.2L0.2,0.2L-0.2,0.2Z","M-1,0L-0.55,0M0.55,0L1,0M-0.2,-0.2L0.2,-0.2L0.2,0.2L-0.2,0.2Z","M-1,0L-0.55,0M0.55,0L1,0M-0.2,-0.2L0.2,-0.2L0.2,0.2L-0.2,0.2Z","M-1,0L-0.55,0M0.55,0L1,0M-0.2,-0.2L0.2,-0.2L0.2,0.2L-0.2,0.2Z","M-1,0L-0.55,0M0.55,0L1,0M-0.2,-0.2L0.2,-0.2L0.2,0.2L-0.2,0.2Z","M-1,0L-0.55,0M0.55,0L1,0M-0.2,-0.2L0.2,-0.2L0.2,0.2L-0.2,0.2Z","M-1,0L-0.55,0M0.55,0L1,0M-0.2,-0.2L0.2,-0.2L0.2,0.2L-0.2,0.2Z"]},
      "legend": {"orient": "none", "legendX": 179, "legendY": 227, "title": null, "labelExpr": "datum.label == 'unweighted' ? 'unweighted ℓ₁-minimization' : datum.label == 'weighted' ? 'weighted ℓ₁-minimization' : 'ReLU ' + datum.label + ' × ' + (40 * toNumber(datum.label)) + ' DNN'"}}
   }}
 ]}
 ], "spacing": 40,
 "resolve": {"scale": {"x": "independent", "y": "independent", "color": "independent", "shape": "independent", "stroke": "independent"}, "legend": {"color": "independent", "shape": "independent"}}},
 {"vconcat": [
  {"width": 534, "height": 94, "data": {"values": []}, "mark": "point", "encoding": {}, "view": {"stroke": null}},
  {"concat": [
   {"width": 123, "height": 47, "view": {"stroke": "#222222", "strokeWidth": 1.5}, "data": {"values": [{"label": "β"}]},
    "mark": {"type": "text", "font": "Liberation Serif", "fontSize": 36, "fontStyle": "italic", "align": "left", "baseline": "middle", "dx": -40, "color": "#000000"},
    "encoding": {"text": {"field": "label"}}},
   {"width": 198, "height": 47, "view": {"stroke": "#222222", "strokeWidth": 1.5}, "data": {"values": [{"label": "best arch."}]},
    "mark": {"type": "text", "font": "Liberation Serif", "fontSize": 36, "align": "left", "baseline": "middle", "dx": -77, "color": "#000000"},
    "encoding": {"text": {"field": "label"}}},
   {"width": 213, "height": 47, "view": {"stroke": "#222222", "strokeWidth": 1.5}, "data": {"values": [{"label": "# params."}]},
    "mark": {"type": "text", "font": "Liberation Serif", "fontSize": 36, "align": "left", "baseline": "middle", "dx": -84, "color": "#000000"},
    "encoding": {"text": {"field": "label"}}},
   {"width": 123, "height": 227, "view": {"stroke": "#222222", "strokeWidth": 1.5}, "data": {"name": "table"},
    "mark": {"type": "text", "font": "Liberation Serif", "fontSize": 36, "align": "left", "baseline": "middle", "dx": -40, "color": "#000000"},
    "encoding": {"y": {"field": "row", "type": "ordinal", "axis": null, "scale": {"type": "point", "padding": 0.5}}, "text": {"field": "beta"}}},
   {"width": 198, "height": 227, "view": {"stroke": "#222222", "strokeWidth": 1.5}, "data": {"name": "table"},
    "mark": {"type": "text", "font": "Liberation Serif", "fontSize": 36, "align": "left", "baseline": "middle", "dx": -77, "color": "#000000"},
    "encoding": {"y": {"field": "row", "type": "ordinal", "axis": null, "scale": {"type": "point", "padding": 0.5}}, "text": {"field": "arch"}}},
   {"width": 213, "height": 227, "view": {"stroke": "#222222", "strokeWidth": 1.5}, "data": {"name": "table"},
    "layer": [
     {"mark": {"type": "text", "text": "O", "font": "Liberation Serif", "fontSize": 36, "fontStyle": "italic", "align": "left", "baseline": "middle", "dx": -84, "color": "#000000"},
      "encoding": {"y": {"field": "row", "type": "ordinal", "axis": null, "scale": {"type": "point", "padding": 0.5}}}},
     {"mark": {"type": "text", "font": "Liberation Serif", "fontSize": 36, "align": "left", "baseline": "middle", "dx": -57, "color": "#000000"},
      "encoding": {"y": {"field": "row", "type": "ordinal", "axis": null, "scale": {"type": "point", "padding": 0.5}}, "text": {"field": "params"}}}
    ]}
  ], "columns": 3, "spacing": 0, "bounds": "flush", "align": "each"}
 ], "spacing": 0}
], "spacing": 45,
 "resolve": {"scale": {"x": "independent", "y": "independent", "color": "independent", "shape": "independent", "stroke": "independent"}, "legend": {"color": "independent", "shape": "independent"}}}
],
"spacing": 43.5,
"resolve": {"scale": {"x": "independent", "y": "independent", "color": "independent", "shape": "independent", "stroke": "independent"}, "legend": {"color": "independent", "shape": "independent"}}
}
